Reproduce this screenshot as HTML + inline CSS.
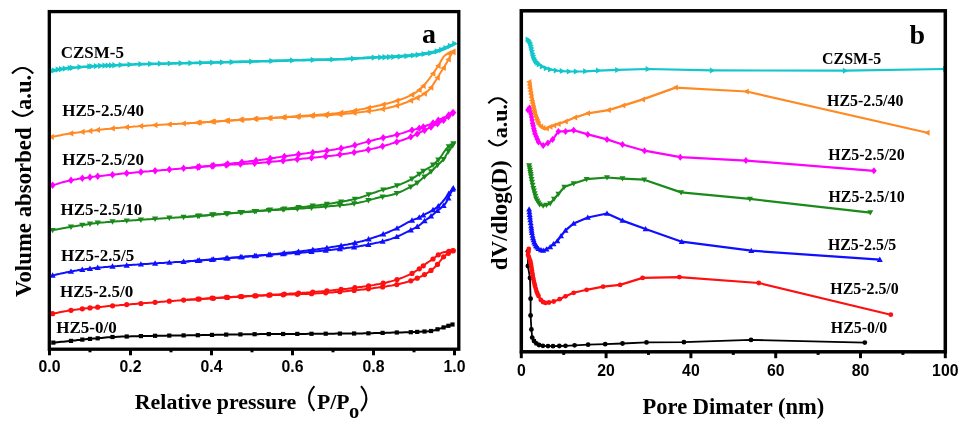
<!DOCTYPE html>
<html><head><meta charset="utf-8"><title>Chart</title>
<style>html,body{margin:0;padding:0;background:#fff;width:965px;height:426px;overflow:hidden}svg{display:block;filter:blur(0.4px)}</style>
</head><body>
<svg width="965" height="426" viewBox="0 0 965 426">
<rect width="965" height="426" fill="#ffffff"/>
<polyline points="51.5,71.0 53.5,70.5 55.6,70.1 57.6,69.7 59.6,69.3 61.6,69.0 63.7,68.7 65.7,68.5 67.7,68.2 69.7,68.0 71.8,67.8 73.8,67.6 75.8,67.5 77.9,67.3 79.9,67.1 81.9,67.0 83.9,66.8 86.0,66.7 88.0,66.5 90.0,66.4 92.1,66.3 94.1,66.2 96.1,66.0 98.1,65.9 100.2,65.8 102.2,65.7 104.2,65.7 106.2,65.6 108.3,65.5 110.3,65.4 112.3,65.3 114.4,65.3 116.4,65.2 118.4,65.1 120.4,65.0 122.5,64.9 124.5,64.9 126.5,64.8 128.6,64.7 130.6,64.6 132.6,64.5 134.6,64.4 136.7,64.3 138.7,64.3 140.7,64.2 142.7,64.1 144.8,64.1 146.8,64.0 148.8,64.0 150.9,63.9 152.9,63.9 154.9,63.8 156.9,63.8 159.0,63.7 161.0,63.7 163.0,63.6 165.0,63.6 167.1,63.5 169.1,63.5 171.1,63.5 173.2,63.4 175.2,63.4 177.2,63.3 179.2,63.3 181.3,63.2 183.3,63.2 185.3,63.2 187.4,63.1 189.4,63.1 191.4,63.0 193.4,63.0 195.5,62.9 197.5,62.9 199.5,62.8 201.5,62.8 203.6,62.7 205.6,62.7 207.6,62.6 209.7,62.6 211.7,62.5 213.7,62.5 215.7,62.5 217.8,62.4 219.8,62.4 221.8,62.3 223.8,62.3 225.9,62.2 227.9,62.2 229.9,62.1 232.0,62.1 234.0,62.0 236.0,62.0 238.0,61.9 240.1,61.9 242.1,61.8 244.1,61.8 246.2,61.7 248.2,61.7 250.2,61.6 252.2,61.5 254.3,61.5 256.3,61.4 258.3,61.4 260.3,61.3 262.4,61.3 264.4,61.2 266.4,61.2 268.5,61.1 270.5,61.0 272.5,61.0 274.5,60.9 276.6,60.9 278.6,60.8 280.6,60.7 282.7,60.7 284.7,60.6 286.7,60.6 288.7,60.5 290.8,60.4 292.8,60.4 294.8,60.3 296.8,60.3 298.9,60.2 300.9,60.2 302.9,60.1 305.0,60.1 307.0,60.0 309.0,60.0 311.0,60.0 313.1,59.9 315.1,59.9 317.1,59.8 319.1,59.8 321.2,59.8 323.2,59.7 325.2,59.7 327.3,59.6 329.3,59.6 331.3,59.5 333.3,59.5 335.4,59.4 337.4,59.4 339.4,59.3 341.5,59.3 343.5,59.2 345.5,59.1 347.5,59.0 349.6,58.9 351.6,58.8 353.6,58.7 355.6,58.6 357.7,58.5 359.7,58.3 361.7,58.2 363.8,58.1 365.8,58.0 367.8,57.9 369.8,57.8 371.9,57.7 373.9,57.6 375.9,57.5 377.9,57.5 380.0,57.4 382.0,57.3 384.0,57.3 386.1,57.2 388.1,57.1 390.1,57.0 392.1,57.0 394.2,56.9 396.2,56.8 398.2,56.7 400.3,56.6 402.3,56.5 404.3,56.3 406.3,56.1 408.4,56.0 410.4,55.8 412.4,55.6 414.4,55.3 416.5,55.1 418.5,54.8 420.5,54.5 422.6,54.2 424.6,53.9 426.6,53.7 428.6,53.4 430.7,53.1 432.7,52.7 434.7,52.2 436.8,51.5 438.8,50.8 440.8,50.1 442.8,49.3 444.9,48.4 446.9,47.5 448.9,46.6 450.9,45.6 453.0,44.5 455.0,43.5" fill="none" stroke="#12c6ca" stroke-width="2.6" stroke-linejoin="round" stroke-linecap="round"/>
<polyline points="187.2,63.1 189.0,63.1 190.8,63.0 192.6,63.0 194.4,62.9 196.2,62.9 198.0,62.8 199.8,62.8 201.6,62.7 203.4,62.7 205.2,62.6 207.0,62.6 208.8,62.5 210.6,62.5 212.4,62.4 214.2,62.4 216.0,62.3 217.8,62.3 219.6,62.2 221.3,62.2 223.1,62.1 224.9,62.1 226.7,62.0 228.5,62.0 230.3,61.9 232.1,61.9 233.9,61.8 235.7,61.8 237.5,61.7 239.3,61.7 241.1,61.6 242.9,61.6 244.7,61.5 246.5,61.5 248.3,61.4 250.1,61.4 251.9,61.3 253.7,61.3 255.5,61.2 257.3,61.2 259.1,61.1 260.9,61.1 262.7,61.0 264.5,61.0 266.3,60.9 268.1,60.9 269.9,60.8 271.7,60.8 273.5,60.7 275.3,60.7 277.1,60.6 278.9,60.6 280.7,60.5 282.5,60.5 284.3,60.4 286.1,60.4 287.8,60.3 289.6,60.3 291.4,60.2 293.2,60.2 295.0,60.1 296.8,60.1 298.6,60.0 300.4,60.0 302.2,59.9 304.0,59.9 305.8,59.9 307.6,59.8 309.4,59.8 311.2,59.7 313.0,59.7 314.8,59.7 316.6,59.6 318.4,59.6 320.2,59.5 322.0,59.5 323.8,59.5 325.6,59.4 327.4,59.4 329.2,59.3 331.0,59.3 332.8,59.2 334.6,59.2 336.4,59.1 338.2,59.1 340.0,59.0 341.8,58.9 343.6,58.9 345.4,58.8 347.2,58.7 349.0,58.6 350.8,58.5 352.6,58.4 354.4,58.3 356.1,58.2 357.9,58.1 359.7,58.0 361.5,57.9 363.3,57.8 365.1,57.7 366.9,57.6 368.7,57.5 370.5,57.4 372.3,57.3 374.1,57.2 375.9,57.1 377.7,57.0 379.5,56.9 381.3,56.8 383.1,56.7 384.9,56.7 386.7,56.6 388.5,56.5 390.3,56.4 392.1,56.3 393.9,56.2 395.7,56.1 397.5,56.0 399.3,55.8 401.1,55.7 402.9,55.6 404.7,55.5 406.5,55.3 408.3,55.2 410.1,55.0 411.9,54.8 413.7,54.6 415.5,54.4 417.3,54.2 419.1,53.9 420.9,53.7 422.6,53.4 424.4,53.1 426.2,52.9 428.0,52.6 429.8,52.3 431.6,51.9 433.4,51.5 435.2,51.0 437.0,50.4 438.8,49.8 440.6,49.1 442.4,48.4 444.2,47.7 446.0,47.0 447.8,46.3 449.6,45.6 451.4,44.9 453.2,44.2 455.0,43.5" fill="none" stroke="#12c6ca" stroke-width="2.0" stroke-linejoin="round" stroke-linecap="round"/>
<path d="M54.6 71.0L49.2 67.9L49.2 74.1Z" fill="#12c6ca"/>
<path d="M57.1 70.4L51.7 67.3L51.7 73.6Z" fill="#12c6ca"/>
<path d="M61.1 69.6L55.7 66.5L55.7 72.7Z" fill="#12c6ca"/>
<path d="M64.4 69.1L59.0 66.0L59.0 72.2Z" fill="#12c6ca"/>
<path d="M68.1 68.6L62.7 65.4L62.7 71.7Z" fill="#12c6ca"/>
<path d="M73.1 68.0L67.7 64.9L67.7 71.1Z" fill="#12c6ca"/>
<path d="M75.3 67.8L69.9 64.7L69.9 70.9Z" fill="#12c6ca"/>
<path d="M82.9 67.1L77.5 64.0L77.5 70.2Z" fill="#12c6ca"/>
<path d="M92.7 66.4L87.3 63.3L87.3 69.5Z" fill="#12c6ca"/>
<path d="M94.8 66.3L89.4 63.2L89.4 69.4Z" fill="#12c6ca"/>
<path d="M99.2 66.0L93.8 62.9L93.8 69.2Z" fill="#12c6ca"/>
<path d="M103.5 65.8L98.1 62.7L98.1 68.9Z" fill="#12c6ca"/>
<path d="M107.9 65.6L102.5 62.5L102.5 68.8Z" fill="#12c6ca"/>
<path d="M111.1 65.5L105.7 62.4L105.7 68.6Z" fill="#12c6ca"/>
<path d="M114.4 65.4L109.0 62.3L109.0 68.5Z" fill="#12c6ca"/>
<path d="M117.7 65.2L112.3 62.1L112.3 68.4Z" fill="#12c6ca"/>
<path d="M124.1 65.0L118.7 61.9L118.7 68.1Z" fill="#12c6ca"/>
<path d="M132.9 64.6L127.5 61.5L127.5 67.7Z" fill="#12c6ca"/>
<path d="M143.8 64.2L138.4 61.1L138.4 67.3Z" fill="#12c6ca"/>
<path d="M153.5 63.9L148.1 60.8L148.1 67.1Z" fill="#12c6ca"/>
<path d="M163.3 63.7L157.9 60.6L157.9 66.8Z" fill="#12c6ca"/>
<path d="M173.1 63.5L167.7 60.4L167.7 66.6Z" fill="#12c6ca"/>
<path d="M184.0 63.3L178.6 60.1L178.6 66.4Z" fill="#12c6ca"/>
<path d="M193.8 63.0L188.4 59.9L188.4 66.2Z" fill="#12c6ca"/>
<path d="M204.6 62.8L199.2 59.7L199.2 65.9Z" fill="#12c6ca"/>
<path d="M215.5 62.5L210.1 59.4L210.1 65.7Z" fill="#12c6ca"/>
<path d="M225.3 62.3L219.9 59.2L219.9 65.4Z" fill="#12c6ca"/>
<path d="M235.1 62.1L229.7 58.9L229.7 65.2Z" fill="#12c6ca"/>
<path d="M254.6 61.6L249.2 58.4L249.2 64.7Z" fill="#12c6ca"/>
<path d="M274.8 61.0L269.4 57.9L269.4 64.1Z" fill="#12c6ca"/>
<path d="M295.5 60.4L290.1 57.3L290.1 63.5Z" fill="#12c6ca"/>
<path d="M316.1 59.9L310.7 56.8L310.7 63.0Z" fill="#12c6ca"/>
<path d="M335.7 59.5L330.3 56.4L330.3 62.6Z" fill="#12c6ca"/>
<path d="M356.4 58.7L351.0 55.6L351.0 61.8Z" fill="#12c6ca"/>
<path d="M377.1 57.6L371.7 54.5L371.7 60.7Z" fill="#12c6ca"/>
<path d="M383.6 57.4L378.2 54.3L378.2 60.5Z" fill="#12c6ca"/>
<path d="M387.9 57.2L382.5 54.1L382.5 60.4Z" fill="#12c6ca"/>
<path d="M392.4 57.1L387.0 54.0L387.0 60.2Z" fill="#12c6ca"/>
<path d="M396.7 56.9L391.3 53.8L391.3 60.0Z" fill="#12c6ca"/>
<path d="M403.1 56.6L397.7 53.5L397.7 59.7Z" fill="#12c6ca"/>
<path d="M409.8 56.1L404.4 53.0L404.4 59.2Z" fill="#12c6ca"/>
<path d="M416.3 55.5L410.9 52.4L410.9 58.6Z" fill="#12c6ca"/>
<path d="M421.1 54.9L415.7 51.7L415.7 58.0Z" fill="#12c6ca"/>
<path d="M427.1 54.0L421.7 50.9L421.7 57.1Z" fill="#12c6ca"/>
<path d="M433.6 53.1L428.2 50.0L428.2 56.2Z" fill="#12c6ca"/>
<path d="M440.1 51.5L434.7 48.3L434.7 54.6Z" fill="#12c6ca"/>
<path d="M444.6 49.8L439.2 46.7L439.2 52.9Z" fill="#12c6ca"/>
<path d="M448.9 48.0L443.5 44.9L443.5 51.1Z" fill="#12c6ca"/>
<path d="M453.3 45.9L447.9 42.8L447.9 49.1Z" fill="#12c6ca"/>
<path d="M457.7 43.7L452.3 40.6L452.3 46.8Z" fill="#12c6ca"/>
<polyline points="51.5,137.0 53.5,136.6 55.5,136.2 57.5,135.8 59.6,135.4 61.6,135.0 63.6,134.6 65.6,134.2 67.6,133.9 69.6,133.6 71.6,133.3 73.7,133.0 75.7,132.7 77.7,132.5 79.7,132.2 81.7,132.0 83.7,131.7 85.7,131.4 87.8,131.2 89.8,130.9 91.8,130.6 93.8,130.4 95.8,130.2 97.8,129.9 99.8,129.7 101.9,129.5 103.9,129.3 105.9,129.1 107.9,128.9 109.9,128.7 111.9,128.5 113.9,128.3 116.0,128.1 118.0,127.9 120.0,127.8 122.0,127.6 124.0,127.4 126.0,127.2 128.0,127.1 130.0,126.9 132.1,126.8 134.1,126.6 136.1,126.4 138.1,126.3 140.1,126.1 142.1,126.0 144.1,125.9 146.2,125.7 148.2,125.6 150.2,125.5 152.2,125.3 154.2,125.2 156.2,125.1 158.2,125.0 160.3,124.8 162.3,124.7 164.3,124.6 166.3,124.5 168.3,124.4 170.3,124.3 172.3,124.1 174.4,124.0 176.4,123.9 178.4,123.8 180.4,123.7 182.4,123.6 184.4,123.5 186.4,123.4 188.5,123.2 190.5,123.1 192.5,123.0 194.5,122.9 196.5,122.7 198.5,122.6 200.5,122.5 202.6,122.4 204.6,122.2 206.6,122.1 208.6,121.9 210.6,121.8 212.6,121.7 214.6,121.5 216.7,121.4 218.7,121.2 220.7,121.1 222.7,120.9 224.7,120.8 226.7,120.7 228.7,120.5 230.8,120.4 232.8,120.2 234.8,120.1 236.8,120.0 238.8,119.8 240.8,119.7 242.8,119.6 244.9,119.4 246.9,119.3 248.9,119.2 250.9,119.1 252.9,118.9 254.9,118.8 256.9,118.7 258.9,118.6 261.0,118.5 263.0,118.4 265.0,118.3 267.0,118.2 269.0,118.1 271.0,118.0 273.0,117.9 275.1,117.8 277.1,117.7 279.1,117.6 281.1,117.5 283.1,117.4 285.1,117.3 287.1,117.2 289.2,117.1 291.2,117.0 293.2,116.9 295.2,116.8 297.2,116.7 299.2,116.6 301.2,116.5 303.3,116.4 305.3,116.3 307.3,116.2 309.3,116.1 311.3,116.0 313.3,115.9 315.3,115.8 317.4,115.7 319.4,115.6 321.4,115.5 323.4,115.4 325.4,115.3 327.4,115.1 329.4,115.0 331.5,114.9 333.5,114.8 335.5,114.6 337.5,114.5 339.5,114.3 341.5,114.1 343.5,114.0 345.6,113.8 347.6,113.6 349.6,113.4 351.6,113.2 353.6,113.0 355.6,112.8 357.6,112.5 359.7,112.3 361.7,112.1 363.7,111.8 365.7,111.6 367.7,111.3 369.7,111.0 371.7,110.7 373.8,110.5 375.8,110.2 377.8,109.8 379.8,109.5 381.8,109.2 383.8,108.8 385.8,108.4 387.8,108.0 389.9,107.5 391.9,107.0 393.9,106.5 395.9,105.9 397.9,105.3 399.9,104.7 401.9,104.0 404.0,103.2 406.0,102.5 408.0,101.7 410.0,100.9 412.0,100.1 414.0,99.2 416.0,98.3 418.1,97.4 420.1,96.3 422.1,95.2 424.1,93.9 426.1,92.5 428.1,90.8 430.1,88.7 432.2,86.0 434.2,82.9 436.2,79.8 438.2,76.5 440.2,73.2 442.2,70.0 444.2,66.8 446.3,63.4 448.3,59.8 450.3,56.0 452.3,52.2" fill="none" stroke="#ff8a24" stroke-width="2.0" stroke-linejoin="round" stroke-linecap="round"/>
<polyline points="187.2,123.3 189.0,123.2 190.8,123.1 192.5,123.0 194.3,122.8 196.1,122.7 197.9,122.6 199.7,122.5 201.4,122.4 203.2,122.3 205.0,122.2 206.8,122.1 208.6,121.9 210.3,121.8 212.1,121.7 213.9,121.6 215.7,121.5 217.4,121.4 219.2,121.3 221.0,121.2 222.8,121.0 224.6,120.9 226.3,120.8 228.1,120.7 229.9,120.6 231.7,120.5 233.5,120.4 235.2,120.3 237.0,120.2 238.8,120.0 240.6,119.9 242.4,119.8 244.1,119.7 245.9,119.6 247.7,119.5 249.5,119.4 251.3,119.3 253.0,119.1 254.8,119.0 256.6,118.9 258.4,118.8 260.1,118.7 261.9,118.6 263.7,118.5 265.5,118.3 267.3,118.2 269.0,118.1 270.8,118.0 272.6,117.9 274.4,117.8 276.2,117.6 277.9,117.5 279.7,117.4 281.5,117.3 283.3,117.2 285.1,117.0 286.8,116.9 288.6,116.8 290.4,116.7 292.2,116.5 294.0,116.4 295.7,116.3 297.5,116.2 299.3,116.1 301.1,115.9 302.8,115.8 304.6,115.7 306.4,115.6 308.2,115.4 310.0,115.3 311.7,115.2 313.5,115.1 315.3,115.0 317.1,114.9 318.9,114.7 320.6,114.6 322.4,114.5 324.2,114.3 326.0,114.2 327.8,114.1 329.5,113.9 331.3,113.8 333.1,113.6 334.9,113.4 336.7,113.2 338.4,113.0 340.2,112.8 342.0,112.6 343.8,112.4 345.5,112.1 347.3,111.8 349.1,111.6 350.9,111.3 352.7,111.0 354.4,110.7 356.2,110.3 358.0,110.0 359.8,109.6 361.6,109.3 363.3,108.9 365.1,108.6 366.9,108.2 368.7,107.8 370.5,107.4 372.2,107.0 374.0,106.6 375.8,106.2 377.6,105.8 379.4,105.4 381.1,105.0 382.9,104.6 384.7,104.2 386.5,103.7 388.2,103.3 390.0,102.8 391.8,102.3 393.6,101.7 395.4,101.2 397.1,100.6 398.9,100.1 400.7,99.5 402.5,98.8 404.3,98.2 406.0,97.5 407.8,96.7 409.6,95.9 411.4,95.1 413.2,94.1 414.9,93.1 416.7,91.9 418.5,90.5 420.3,89.0 422.1,87.3 423.8,85.3 425.6,83.3 427.4,81.1 429.2,78.9 430.9,76.5 432.7,74.0 434.5,71.5 436.3,68.8 438.1,66.1 439.8,63.3 441.6,60.0 443.4,56.9 445.2,55.1 447.0,54.2 448.7,53.5 450.5,52.9 452.3,52.2" fill="none" stroke="#ff8a24" stroke-width="2.0" stroke-linejoin="round" stroke-linecap="round"/>
<path d="M48.4 137.0L53.8 133.9L53.8 140.1Z" fill="#ff8a24"/>
<path d="M67.8 133.4L73.3 130.2L73.3 136.5Z" fill="#ff8a24"/>
<path d="M79.2 131.9L84.6 128.8L84.6 135.0Z" fill="#ff8a24"/>
<path d="M86.9 130.9L92.3 127.8L92.3 134.0Z" fill="#ff8a24"/>
<path d="M94.6 129.9L100.0 126.8L100.0 133.1Z" fill="#ff8a24"/>
<path d="M109.4 128.5L114.8 125.3L114.8 131.6Z" fill="#ff8a24"/>
<path d="M123.6 127.2L129.0 124.1L129.0 130.3Z" fill="#ff8a24"/>
<path d="M137.8 126.1L143.2 123.0L143.2 129.2Z" fill="#ff8a24"/>
<path d="M152.0 125.1L157.5 122.0L157.5 128.3Z" fill="#ff8a24"/>
<path d="M166.2 124.3L171.7 121.2L171.7 127.4Z" fill="#ff8a24"/>
<path d="M180.4 123.5L185.9 120.4L185.9 126.6Z" fill="#ff8a24"/>
<path d="M194.7 122.7L200.1 119.5L200.1 125.8Z" fill="#ff8a24"/>
<path d="M208.9 121.7L214.3 118.6L214.3 124.8Z" fill="#ff8a24"/>
<path d="M223.1 120.7L228.5 117.6L228.5 123.8Z" fill="#ff8a24"/>
<path d="M237.3 119.7L242.8 116.6L242.8 122.8Z" fill="#ff8a24"/>
<path d="M251.5 118.8L257.0 115.7L257.0 122.0Z" fill="#ff8a24"/>
<path d="M265.7 118.1L271.2 115.0L271.2 121.2Z" fill="#ff8a24"/>
<path d="M279.9 117.4L285.4 114.3L285.4 120.6Z" fill="#ff8a24"/>
<path d="M294.2 116.7L299.6 113.6L299.6 119.9Z" fill="#ff8a24"/>
<path d="M308.4 116.0L313.8 112.9L313.8 119.1Z" fill="#ff8a24"/>
<path d="M322.6 115.3L328.0 112.1L328.0 118.4Z" fill="#ff8a24"/>
<path d="M336.8 114.3L342.3 111.2L342.3 117.4Z" fill="#ff8a24"/>
<path d="M351.0 112.9L356.5 109.8L356.5 116.1Z" fill="#ff8a24"/>
<path d="M365.2 111.2L370.7 108.1L370.7 114.3Z" fill="#ff8a24"/>
<path d="M379.5 109.1L384.9 105.9L384.9 112.2Z" fill="#ff8a24"/>
<path d="M393.7 105.7L399.1 102.5L399.1 108.8Z" fill="#ff8a24"/>
<path d="M407.6 100.6L413.1 97.5L413.1 103.7Z" fill="#ff8a24"/>
<path d="M414.1 97.8L419.6 94.6L419.6 100.9Z" fill="#ff8a24"/>
<path d="M421.4 93.6L426.9 90.5L426.9 96.8Z" fill="#ff8a24"/>
<path d="M427.9 87.6L433.3 84.5L433.3 90.8Z" fill="#ff8a24"/>
<path d="M434.4 77.7L439.8 74.6L439.8 80.8Z" fill="#ff8a24"/>
<path d="M440.4 67.9L445.9 64.7L445.9 71.0Z" fill="#ff8a24"/>
<path d="M445.3 59.5L450.8 56.4L450.8 62.6Z" fill="#ff8a24"/>
<path d="M449.4 51.9L454.8 48.8L454.8 55.0Z" fill="#ff8a24"/>
<path d="M450.2 51.7L455.6 48.6L455.6 54.9Z" fill="#ff8a24"/>
<path d="M445.7 53.5L451.2 50.3L451.2 56.6Z" fill="#ff8a24"/>
<path d="M435.2 65.8L440.6 62.7L440.6 68.9Z" fill="#ff8a24"/>
<path d="M429.9 73.6L435.4 70.5L435.4 76.7Z" fill="#ff8a24"/>
<path d="M420.2 85.9L425.7 82.8L425.7 89.0Z" fill="#ff8a24"/>
<path d="M416.1 89.9L421.6 86.8L421.6 93.0Z" fill="#ff8a24"/>
<path d="M408.9 94.8L414.3 91.6L414.3 97.9Z" fill="#ff8a24"/>
<path d="M393.9 100.7L399.3 97.6L399.3 103.8Z" fill="#ff8a24"/>
<path d="M380.1 104.5L385.6 101.4L385.6 107.7Z" fill="#ff8a24"/>
<path d="M365.5 107.8L371.0 104.7L371.0 110.9Z" fill="#ff8a24"/>
<path d="M351.8 110.6L357.2 107.5L357.2 113.7Z" fill="#ff8a24"/>
<path d="M338.0 112.7L343.4 109.6L343.4 115.8Z" fill="#ff8a24"/>
<path d="M323.8 114.1L329.3 111.0L329.3 117.3Z" fill="#ff8a24"/>
<path d="M309.6 115.1L315.1 112.0L315.1 118.3Z" fill="#ff8a24"/>
<path d="M295.5 116.1L300.9 113.0L300.9 119.2Z" fill="#ff8a24"/>
<path d="M281.3 117.1L286.7 114.0L286.7 120.2Z" fill="#ff8a24"/>
<path d="M267.1 118.0L272.6 114.9L272.6 121.1Z" fill="#ff8a24"/>
<path d="M252.9 118.9L258.4 115.8L258.4 122.1Z" fill="#ff8a24"/>
<path d="M238.8 119.8L244.2 116.7L244.2 123.0Z" fill="#ff8a24"/>
<path d="M224.6 120.7L230.0 117.6L230.0 123.9Z" fill="#ff8a24"/>
<path d="M210.4 121.6L215.9 118.5L215.9 124.7Z" fill="#ff8a24"/>
<path d="M196.2 122.5L201.7 119.4L201.7 125.6Z" fill="#ff8a24"/>
<polyline points="52.6,185.2 54.6,184.6 56.6,184.1 58.6,183.5 60.6,182.9 62.6,182.3 64.7,181.7 66.7,181.2 68.7,180.7 70.7,180.3 72.7,179.9 74.7,179.5 76.7,179.2 78.7,178.8 80.7,178.5 82.7,178.2 84.7,177.9 86.7,177.7 88.8,177.4 90.8,177.1 92.8,176.8 94.8,176.6 96.8,176.3 98.8,176.1 100.8,175.9 102.8,175.7 104.8,175.4 106.8,175.2 108.8,175.0 110.8,174.8 112.9,174.6 114.9,174.4 116.9,174.2 118.9,174.0 120.9,173.8 122.9,173.6 124.9,173.4 126.9,173.3 128.9,173.1 130.9,172.9 132.9,172.7 135.0,172.5 137.0,172.3 139.0,172.2 141.0,172.0 143.0,171.8 145.0,171.6 147.0,171.4 149.0,171.3 151.0,171.1 153.0,170.9 155.0,170.7 157.0,170.6 159.1,170.4 161.1,170.2 163.1,170.0 165.1,169.9 167.1,169.7 169.1,169.5 171.1,169.4 173.1,169.2 175.1,169.0 177.1,168.9 179.1,168.7 181.1,168.5 183.2,168.4 185.2,168.2 187.2,168.0 189.2,167.9 191.2,167.7 193.2,167.5 195.2,167.4 197.2,167.2 199.2,167.0 201.2,166.9 203.2,166.7 205.2,166.5 207.3,166.4 209.3,166.2 211.3,166.0 213.3,165.9 215.3,165.7 217.3,165.6 219.3,165.4 221.3,165.3 223.3,165.1 225.3,165.0 227.3,164.9 229.4,164.7 231.4,164.6 233.4,164.5 235.4,164.4 237.4,164.3 239.4,164.2 241.4,164.1 243.4,163.9 245.4,163.8 247.4,163.7 249.4,163.6 251.4,163.5 253.5,163.3 255.5,163.2 257.5,163.0 259.5,162.9 261.5,162.7 263.5,162.5 265.5,162.4 267.5,162.2 269.5,162.0 271.5,161.8 273.5,161.6 275.5,161.4 277.6,161.2 279.6,161.0 281.6,160.8 283.6,160.6 285.6,160.4 287.6,160.2 289.6,160.0 291.6,159.8 293.6,159.6 295.6,159.4 297.6,159.2 299.7,159.0 301.7,158.8 303.7,158.6 305.7,158.4 307.7,158.2 309.7,158.0 311.7,157.8 313.7,157.6 315.7,157.4 317.7,157.2 319.7,157.0 321.7,156.8 323.8,156.6 325.8,156.4 327.8,156.1 329.8,155.9 331.8,155.7 333.8,155.4 335.8,155.2 337.8,154.9 339.8,154.6 341.8,154.3 343.8,154.0 345.8,153.7 347.9,153.4 349.9,153.1 351.9,152.8 353.9,152.4 355.9,152.1 357.9,151.7 359.9,151.3 361.9,151.0 363.9,150.6 365.9,150.1 367.9,149.7 369.9,149.3 372.0,148.9 374.0,148.4 376.0,148.0 378.0,147.5 380.0,147.0 382.0,146.5 384.0,145.9 386.0,145.3 388.0,144.7 390.0,144.1 392.0,143.4 394.1,142.8 396.1,142.1 398.1,141.5 400.1,140.8 402.1,140.2 404.1,139.5 406.1,138.7 408.1,138.0 410.1,137.2 412.1,136.3 414.1,135.4 416.1,134.4 418.2,133.4 420.2,132.4 422.2,131.4 424.2,130.4 426.2,129.4 428.2,128.4 430.2,127.4 432.2,126.3 434.2,125.4 436.2,124.4 438.2,123.4 440.2,122.3 442.3,121.2 444.3,119.8 446.3,118.3 448.3,116.6 450.3,114.8 452.3,113.1" fill="none" stroke="#ff00ff" stroke-width="2.0" stroke-linejoin="round" stroke-linecap="round"/>
<polyline points="187.2,168.0 189.0,167.9 190.8,167.7 192.5,167.5 194.3,167.3 196.1,167.2 197.9,167.0 199.7,166.8 201.4,166.6 203.2,166.5 205.0,166.3 206.8,166.1 208.6,165.9 210.3,165.8 212.1,165.6 213.9,165.4 215.7,165.2 217.4,165.0 219.2,164.9 221.0,164.7 222.8,164.5 224.6,164.3 226.3,164.1 228.1,163.9 229.9,163.7 231.7,163.5 233.5,163.3 235.2,163.1 237.0,162.9 238.8,162.7 240.6,162.4 242.4,162.2 244.1,162.0 245.9,161.8 247.7,161.6 249.5,161.3 251.3,161.1 253.0,160.9 254.8,160.7 256.6,160.4 258.4,160.2 260.1,159.9 261.9,159.7 263.7,159.4 265.5,159.2 267.3,158.9 269.0,158.7 270.8,158.4 272.6,158.1 274.4,157.9 276.2,157.6 277.9,157.3 279.7,157.1 281.5,156.8 283.3,156.5 285.1,156.3 286.8,156.0 288.6,155.8 290.4,155.5 292.2,155.2 294.0,155.0 295.7,154.7 297.5,154.5 299.3,154.2 301.1,154.0 302.8,153.7 304.6,153.5 306.4,153.3 308.2,153.0 310.0,152.8 311.7,152.6 313.5,152.3 315.3,152.1 317.1,151.9 318.9,151.7 320.6,151.4 322.4,151.2 324.2,151.0 326.0,150.7 327.8,150.5 329.5,150.2 331.3,150.0 333.1,149.7 334.9,149.4 336.7,149.1 338.4,148.8 340.2,148.5 342.0,148.2 343.8,147.8 345.5,147.5 347.3,147.1 349.1,146.7 350.9,146.3 352.7,145.8 354.4,145.4 356.2,144.9 358.0,144.4 359.8,143.9 361.6,143.4 363.3,142.9 365.1,142.4 366.9,141.9 368.7,141.4 370.5,141.0 372.2,140.5 374.0,140.0 375.8,139.5 377.6,139.1 379.4,138.7 381.1,138.2 382.9,137.8 384.7,137.4 386.5,137.1 388.2,136.7 390.0,136.3 391.8,135.9 393.6,135.5 395.4,135.1 397.1,134.6 398.9,134.1 400.7,133.6 402.5,133.1 404.3,132.5 406.0,131.9 407.8,131.3 409.6,130.8 411.4,130.3 413.2,129.8 414.9,129.4 416.7,128.9 418.5,128.5 420.3,127.9 422.1,127.3 423.8,126.7 425.6,126.0 427.4,125.3 429.2,124.6 430.9,123.8 432.7,123.0 434.5,122.2 436.3,121.3 438.1,120.4 439.8,119.5 441.6,118.6 443.4,117.7 445.2,116.8 447.0,115.9 448.7,115.0 450.5,114.0 452.3,113.1" fill="none" stroke="#ff00ff" stroke-width="2.0" stroke-linejoin="round" stroke-linecap="round"/>
<path d="M52.6 181.5L55.6 185.2L52.6 188.9L49.6 185.2Z" fill="#ff00ff"/>
<path d="M71.0 176.5L73.9 180.2L71.0 183.9L68.0 180.2Z" fill="#ff00ff"/>
<path d="M82.3 174.6L85.3 178.3L82.3 182.0L79.3 178.3Z" fill="#ff00ff"/>
<path d="M90.0 173.5L93.0 177.2L90.0 180.9L87.0 177.2Z" fill="#ff00ff"/>
<path d="M97.7 172.5L100.7 176.2L97.7 180.0L94.7 176.2Z" fill="#ff00ff"/>
<path d="M112.5 170.9L115.5 174.7L112.5 178.4L109.5 174.7Z" fill="#ff00ff"/>
<path d="M126.7 169.6L129.7 173.3L126.7 177.0L123.7 173.3Z" fill="#ff00ff"/>
<path d="M140.9 168.3L143.9 172.0L140.9 175.7L137.9 172.0Z" fill="#ff00ff"/>
<path d="M155.1 167.0L158.1 170.7L155.1 174.4L152.1 170.7Z" fill="#ff00ff"/>
<path d="M169.3 165.8L172.3 169.5L169.3 173.2L166.4 169.5Z" fill="#ff00ff"/>
<path d="M183.6 164.6L186.5 168.3L183.6 172.1L180.6 168.3Z" fill="#ff00ff"/>
<path d="M197.8 163.4L200.7 167.1L197.8 170.9L194.8 167.1Z" fill="#ff00ff"/>
<path d="M212.0 162.3L215.0 166.0L212.0 169.7L209.0 166.0Z" fill="#ff00ff"/>
<path d="M226.2 161.2L229.2 164.9L226.2 168.7L223.2 164.9Z" fill="#ff00ff"/>
<path d="M240.4 160.4L243.4 164.1L240.4 167.8L237.4 164.1Z" fill="#ff00ff"/>
<path d="M254.6 159.5L257.6 163.2L254.6 167.0L251.7 163.2Z" fill="#ff00ff"/>
<path d="M268.8 158.3L271.8 162.1L268.8 165.8L265.9 162.1Z" fill="#ff00ff"/>
<path d="M283.1 157.0L286.0 160.7L283.1 164.4L280.1 160.7Z" fill="#ff00ff"/>
<path d="M297.3 155.5L300.3 159.3L297.3 163.0L294.3 159.3Z" fill="#ff00ff"/>
<path d="M311.5 154.1L314.5 157.9L311.5 161.6L308.5 157.9Z" fill="#ff00ff"/>
<path d="M325.7 152.6L328.7 156.4L325.7 160.1L322.7 156.4Z" fill="#ff00ff"/>
<path d="M339.9 150.9L342.9 154.6L339.9 158.3L336.9 154.6Z" fill="#ff00ff"/>
<path d="M354.1 148.7L357.1 152.4L354.1 156.1L351.2 152.4Z" fill="#ff00ff"/>
<path d="M368.4 145.9L371.3 149.6L368.4 153.4L365.4 149.6Z" fill="#ff00ff"/>
<path d="M382.6 142.6L385.5 146.3L382.6 150.1L379.6 146.3Z" fill="#ff00ff"/>
<path d="M396.8 138.2L399.8 141.9L396.8 145.6L393.8 141.9Z" fill="#ff00ff"/>
<path d="M410.8 133.2L413.7 136.9L410.8 140.6L407.8 136.9Z" fill="#ff00ff"/>
<path d="M417.2 130.2L420.2 133.9L417.2 137.6L414.3 133.9Z" fill="#ff00ff"/>
<path d="M424.5 126.5L427.5 130.2L424.5 134.0L421.6 130.2Z" fill="#ff00ff"/>
<path d="M431.0 123.2L434.0 126.9L431.0 130.7L428.0 126.9Z" fill="#ff00ff"/>
<path d="M437.5 120.1L440.5 123.8L437.5 127.5L434.5 123.8Z" fill="#ff00ff"/>
<path d="M443.6 116.6L446.5 120.3L443.6 124.0L440.6 120.3Z" fill="#ff00ff"/>
<path d="M448.4 112.7L451.4 116.4L448.4 120.2L445.4 116.4Z" fill="#ff00ff"/>
<path d="M452.5 109.2L455.5 113.0L452.5 116.7L449.5 113.0Z" fill="#ff00ff"/>
<path d="M453.3 108.9L456.3 112.6L453.3 116.3L450.3 112.6Z" fill="#ff00ff"/>
<path d="M448.8 111.2L451.8 114.9L448.8 118.6L445.9 114.9Z" fill="#ff00ff"/>
<path d="M438.3 116.6L441.3 120.3L438.3 124.0L435.3 120.3Z" fill="#ff00ff"/>
<path d="M433.0 119.2L436.0 122.9L433.0 126.6L430.1 122.9Z" fill="#ff00ff"/>
<path d="M423.3 123.2L426.3 126.9L423.3 130.6L420.3 126.9Z" fill="#ff00ff"/>
<path d="M419.3 124.5L422.2 128.2L419.3 132.0L416.3 128.2Z" fill="#ff00ff"/>
<path d="M412.0 126.4L415.0 130.1L412.0 133.9L409.0 130.1Z" fill="#ff00ff"/>
<path d="M397.0 131.0L400.0 134.7L397.0 138.4L394.0 134.7Z" fill="#ff00ff"/>
<path d="M383.2 134.0L386.2 137.8L383.2 141.5L380.2 137.8Z" fill="#ff00ff"/>
<path d="M368.6 137.7L371.6 141.5L368.6 145.2L365.7 141.5Z" fill="#ff00ff"/>
<path d="M354.9 141.5L357.8 145.2L354.9 149.0L351.9 145.2Z" fill="#ff00ff"/>
<path d="M341.1 144.6L344.1 148.4L341.1 152.1L338.1 148.4Z" fill="#ff00ff"/>
<path d="M326.9 146.9L329.9 150.6L326.9 154.3L323.9 150.6Z" fill="#ff00ff"/>
<path d="M312.8 148.7L315.7 152.4L312.8 156.2L309.8 152.4Z" fill="#ff00ff"/>
<path d="M298.6 150.6L301.6 154.3L298.6 158.0L295.6 154.3Z" fill="#ff00ff"/>
<path d="M284.4 152.7L287.4 156.4L284.4 160.1L281.4 156.4Z" fill="#ff00ff"/>
<path d="M270.2 154.8L273.2 158.5L270.2 162.2L267.2 158.5Z" fill="#ff00ff"/>
<path d="M256.1 156.8L259.0 160.5L256.1 164.2L253.1 160.5Z" fill="#ff00ff"/>
<path d="M241.9 158.6L244.9 162.3L241.9 166.0L238.9 162.3Z" fill="#ff00ff"/>
<path d="M227.7 160.2L230.7 163.9L227.7 167.7L224.7 163.9Z" fill="#ff00ff"/>
<path d="M213.5 161.7L216.5 165.4L213.5 169.2L210.5 165.4Z" fill="#ff00ff"/>
<path d="M199.3 163.1L202.3 166.8L199.3 170.6L196.4 166.8Z" fill="#ff00ff"/>
<polyline points="52.6,230.2 54.6,229.8 56.6,229.4 58.7,229.1 60.7,228.7 62.7,228.3 64.7,227.9 66.7,227.6 68.8,227.2 70.8,226.9 72.8,226.5 74.8,226.2 76.8,225.9 78.9,225.6 80.9,225.3 82.9,225.0 84.9,224.7 86.9,224.4 89.0,224.1 91.0,223.8 93.0,223.5 95.0,223.2 97.0,223.0 99.1,222.8 101.1,222.6 103.1,222.4 105.1,222.3 107.1,222.1 109.2,221.9 111.2,221.8 113.2,221.6 115.2,221.5 117.2,221.3 119.3,221.2 121.3,221.1 123.3,220.9 125.3,220.8 127.3,220.7 129.4,220.5 131.4,220.4 133.4,220.3 135.4,220.2 137.4,220.0 139.5,219.9 141.5,219.7 143.5,219.6 145.5,219.5 147.5,219.3 149.6,219.2 151.6,219.1 153.6,218.9 155.6,218.8 157.6,218.7 159.7,218.6 161.7,218.4 163.7,218.3 165.7,218.2 167.7,218.1 169.8,217.9 171.8,217.8 173.8,217.7 175.8,217.5 177.8,217.4 179.9,217.3 181.9,217.2 183.9,217.0 185.9,216.9 187.9,216.8 190.0,216.6 192.0,216.5 194.0,216.3 196.0,216.2 198.0,216.0 200.1,215.9 202.1,215.7 204.1,215.6 206.1,215.4 208.1,215.2 210.2,215.1 212.2,214.9 214.2,214.7 216.2,214.5 218.2,214.3 220.3,214.2 222.3,214.0 224.3,213.8 226.3,213.6 228.3,213.4 230.4,213.2 232.4,213.1 234.4,212.9 236.4,212.7 238.4,212.5 240.5,212.3 242.5,212.2 244.5,212.0 246.5,211.8 248.5,211.7 250.6,211.5 252.6,211.4 254.6,211.2 256.6,211.1 258.7,211.0 260.7,210.8 262.7,210.7 264.7,210.6 266.7,210.5 268.8,210.3 270.8,210.2 272.8,210.1 274.8,210.0 276.8,209.9 278.9,209.8 280.9,209.7 282.9,209.6 284.9,209.4 286.9,209.3 289.0,209.2 291.0,209.1 293.0,209.0 295.0,208.9 297.0,208.7 299.1,208.6 301.1,208.5 303.1,208.4 305.1,208.2 307.1,208.1 309.2,207.9 311.2,207.8 313.2,207.6 315.2,207.5 317.2,207.3 319.3,207.2 321.3,207.0 323.3,206.8 325.3,206.7 327.3,206.5 329.4,206.3 331.4,206.1 333.4,206.0 335.4,205.8 337.4,205.6 339.5,205.4 341.5,205.1 343.5,204.9 345.5,204.7 347.5,204.4 349.6,204.2 351.6,203.9 353.6,203.6 355.6,203.3 357.6,202.9 359.7,202.5 361.7,202.1 363.7,201.6 365.7,201.1 367.7,200.5 369.8,200.0 371.8,199.4 373.8,198.9 375.8,198.3 377.8,197.8 379.9,197.3 381.9,196.9 383.9,196.5 385.9,196.1 387.9,195.7 390.0,195.3 392.0,194.8 394.0,194.2 396.0,193.6 398.0,192.8 400.1,192.0 402.1,191.1 404.1,190.2 406.1,189.2 408.1,188.2 410.2,187.1 412.2,186.1 414.2,184.9 416.2,183.6 418.2,182.1 420.3,180.2 422.3,178.4 424.3,176.9 426.3,175.4 428.3,173.9 430.4,172.2 432.4,170.3 434.4,168.2 436.4,166.2 438.4,164.3 440.5,162.5 442.5,160.5 444.5,158.0 446.5,154.6 448.5,151.2 450.6,148.3 452.6,145.6 454.6,142.8" fill="none" stroke="#1a8a1a" stroke-width="2.0" stroke-linejoin="round" stroke-linecap="round"/>
<polyline points="187.2,216.8 189.0,216.7 190.8,216.5 192.6,216.4 194.4,216.2 196.2,216.1 198.0,215.9 199.8,215.8 201.6,215.6 203.4,215.5 205.1,215.4 206.9,215.2 208.7,215.1 210.5,214.9 212.3,214.8 214.1,214.6 215.9,214.5 217.7,214.3 219.5,214.2 221.3,214.1 223.1,213.9 224.9,213.8 226.7,213.6 228.5,213.5 230.3,213.3 232.1,213.2 233.9,213.0 235.7,212.9 237.4,212.8 239.2,212.6 241.0,212.5 242.8,212.3 244.6,212.2 246.4,212.0 248.2,211.9 250.0,211.7 251.8,211.6 253.6,211.4 255.4,211.3 257.2,211.1 259.0,211.0 260.8,210.8 262.6,210.7 264.4,210.5 266.2,210.3 268.0,210.2 269.8,210.0 271.5,209.9 273.3,209.7 275.1,209.5 276.9,209.4 278.7,209.2 280.5,209.1 282.3,208.9 284.1,208.8 285.9,208.6 287.7,208.5 289.5,208.3 291.3,208.1 293.1,208.0 294.9,207.8 296.7,207.6 298.5,207.5 300.3,207.3 302.1,207.1 303.9,206.9 305.6,206.7 307.4,206.5 309.2,206.3 311.0,206.1 312.8,205.9 314.6,205.7 316.4,205.4 318.2,205.2 320.0,205.0 321.8,204.7 323.6,204.5 325.4,204.2 327.2,204.0 329.0,203.7 330.8,203.5 332.6,203.2 334.4,202.9 336.2,202.6 337.9,202.3 339.7,202.0 341.5,201.7 343.3,201.4 345.1,201.0 346.9,200.7 348.7,200.3 350.5,199.9 352.3,199.6 354.1,199.2 355.9,198.7 357.7,198.3 359.5,197.8 361.3,197.2 363.1,196.6 364.9,196.0 366.7,195.4 368.5,194.7 370.3,194.1 372.0,193.4 373.8,192.8 375.6,192.2 377.4,191.5 379.2,190.9 381.0,190.4 382.8,189.8 384.6,189.3 386.4,188.8 388.2,188.3 390.0,187.8 391.8,187.2 393.6,186.7 395.4,186.1 397.2,185.5 399.0,184.9 400.8,184.2 402.6,183.4 404.4,182.6 406.1,181.8 407.9,181.0 409.7,180.1 411.5,179.1 413.3,178.0 415.1,176.9 416.9,175.7 418.7,174.5 420.5,173.2 422.3,171.9 424.1,170.6 425.9,169.5 427.7,168.4 429.5,167.5 431.3,166.3 433.1,164.9 434.9,163.3 436.7,161.5 438.4,159.6 440.2,157.5 442.0,155.0 443.8,152.3 445.6,149.7 447.4,147.7 449.2,146.2 451.0,145.0 452.8,143.9 454.6,142.8" fill="none" stroke="#1a8a1a" stroke-width="2.0" stroke-linejoin="round" stroke-linecap="round"/>
<path d="M52.6 233.3L55.7 227.9L49.5 227.9Z" fill="#1a8a1a"/>
<path d="M71.0 230.0L74.1 224.5L67.8 224.5Z" fill="#1a8a1a"/>
<path d="M82.3 228.2L85.4 222.8L79.2 222.8Z" fill="#1a8a1a"/>
<path d="M90.0 227.1L93.1 221.6L86.9 221.6Z" fill="#1a8a1a"/>
<path d="M97.7 226.1L100.8 220.6L94.6 220.6Z" fill="#1a8a1a"/>
<path d="M112.5 224.8L115.6 219.3L109.4 219.3Z" fill="#1a8a1a"/>
<path d="M126.7 223.8L129.8 218.4L123.6 218.4Z" fill="#1a8a1a"/>
<path d="M140.9 222.9L144.0 217.4L137.8 217.4Z" fill="#1a8a1a"/>
<path d="M155.1 222.0L158.2 216.5L152.0 216.5Z" fill="#1a8a1a"/>
<path d="M169.3 221.1L172.5 215.6L166.2 215.6Z" fill="#1a8a1a"/>
<path d="M183.6 220.2L186.7 214.7L180.4 214.7Z" fill="#1a8a1a"/>
<path d="M197.8 219.2L200.9 213.7L194.7 213.7Z" fill="#1a8a1a"/>
<path d="M212.0 218.0L215.1 212.6L208.9 212.6Z" fill="#1a8a1a"/>
<path d="M226.2 216.7L229.3 211.3L223.1 211.3Z" fill="#1a8a1a"/>
<path d="M240.4 215.5L243.5 210.0L237.3 210.0Z" fill="#1a8a1a"/>
<path d="M254.6 214.4L257.8 208.9L251.5 208.9Z" fill="#1a8a1a"/>
<path d="M268.8 213.5L272.0 208.0L265.7 208.0Z" fill="#1a8a1a"/>
<path d="M283.1 212.7L286.2 207.2L279.9 207.2Z" fill="#1a8a1a"/>
<path d="M297.3 211.9L300.4 206.4L294.2 206.4Z" fill="#1a8a1a"/>
<path d="M311.5 210.9L314.6 205.4L308.4 205.4Z" fill="#1a8a1a"/>
<path d="M325.7 209.8L328.8 204.3L322.6 204.3Z" fill="#1a8a1a"/>
<path d="M339.9 208.4L343.0 203.0L336.8 203.0Z" fill="#1a8a1a"/>
<path d="M354.1 206.7L357.3 201.2L351.0 201.2Z" fill="#1a8a1a"/>
<path d="M368.4 203.5L371.5 198.0L365.2 198.0Z" fill="#1a8a1a"/>
<path d="M382.6 199.9L385.7 194.4L379.5 194.4Z" fill="#1a8a1a"/>
<path d="M396.8 196.4L399.9 191.0L393.7 191.0Z" fill="#1a8a1a"/>
<path d="M410.8 189.9L413.9 184.5L407.6 184.5Z" fill="#1a8a1a"/>
<path d="M417.2 186.0L420.4 180.5L414.1 180.5Z" fill="#1a8a1a"/>
<path d="M424.5 179.8L427.7 174.4L421.4 174.4Z" fill="#1a8a1a"/>
<path d="M431.0 174.7L434.1 169.3L427.9 169.3Z" fill="#1a8a1a"/>
<path d="M437.5 168.3L440.6 162.8L434.4 162.8Z" fill="#1a8a1a"/>
<path d="M443.6 162.3L446.7 156.9L440.4 156.9Z" fill="#1a8a1a"/>
<path d="M448.4 154.5L451.5 149.1L445.3 149.1Z" fill="#1a8a1a"/>
<path d="M452.5 148.8L455.6 143.4L449.4 143.4Z" fill="#1a8a1a"/>
<path d="M453.3 146.8L456.4 141.3L450.2 141.3Z" fill="#1a8a1a"/>
<path d="M448.8 149.6L451.9 144.2L445.7 144.2Z" fill="#1a8a1a"/>
<path d="M438.3 162.9L441.4 157.4L435.2 157.4Z" fill="#1a8a1a"/>
<path d="M433.0 168.1L436.2 162.6L429.9 162.6Z" fill="#1a8a1a"/>
<path d="M423.3 174.3L426.4 168.8L420.2 168.8Z" fill="#1a8a1a"/>
<path d="M419.3 177.2L422.4 171.7L416.1 171.7Z" fill="#1a8a1a"/>
<path d="M412.0 182.0L415.1 176.5L408.9 176.5Z" fill="#1a8a1a"/>
<path d="M397.0 188.7L400.1 183.2L393.9 183.2Z" fill="#1a8a1a"/>
<path d="M383.2 192.8L386.3 187.4L380.1 187.4Z" fill="#1a8a1a"/>
<path d="M368.6 197.8L371.8 192.3L365.5 192.3Z" fill="#1a8a1a"/>
<path d="M354.9 202.1L358.0 196.7L351.8 196.7Z" fill="#1a8a1a"/>
<path d="M341.1 204.9L344.2 199.4L338.0 199.4Z" fill="#1a8a1a"/>
<path d="M326.9 207.1L330.0 201.7L323.8 201.7Z" fill="#1a8a1a"/>
<path d="M312.8 209.0L315.9 203.5L309.6 203.5Z" fill="#1a8a1a"/>
<path d="M298.6 210.6L301.7 205.1L295.5 205.1Z" fill="#1a8a1a"/>
<path d="M284.4 211.9L287.5 206.4L281.3 206.4Z" fill="#1a8a1a"/>
<path d="M270.2 213.1L273.3 207.6L267.1 207.6Z" fill="#1a8a1a"/>
<path d="M256.1 214.3L259.2 208.9L252.9 208.9Z" fill="#1a8a1a"/>
<path d="M241.9 215.5L245.0 210.1L238.8 210.1Z" fill="#1a8a1a"/>
<path d="M227.7 216.7L230.8 211.2L224.6 211.2Z" fill="#1a8a1a"/>
<path d="M213.5 217.8L216.6 212.3L210.4 212.3Z" fill="#1a8a1a"/>
<path d="M199.3 218.9L202.5 213.5L196.2 213.5Z" fill="#1a8a1a"/>
<polyline points="52.6,275.4 54.6,275.0 56.6,274.5 58.6,274.1 60.6,273.6 62.7,273.2 64.7,272.8 66.7,272.3 68.7,271.9 70.7,271.6 72.7,271.2 74.7,270.8 76.7,270.5 78.8,270.1 80.8,269.8 82.8,269.5 84.8,269.3 86.8,269.0 88.8,268.7 90.8,268.5 92.8,268.3 94.8,268.0 96.9,267.8 98.9,267.6 100.9,267.4 102.9,267.3 104.9,267.1 106.9,266.9 108.9,266.7 110.9,266.5 112.9,266.4 115.0,266.2 117.0,266.1 119.0,265.9 121.0,265.7 123.0,265.6 125.0,265.4 127.0,265.3 129.0,265.1 131.1,265.0 133.1,264.8 135.1,264.7 137.1,264.6 139.1,264.4 141.1,264.3 143.1,264.1 145.1,264.0 147.1,263.9 149.2,263.7 151.2,263.6 153.2,263.5 155.2,263.3 157.2,263.2 159.2,263.1 161.2,263.0 163.2,262.9 165.2,262.7 167.3,262.6 169.3,262.5 171.3,262.4 173.3,262.3 175.3,262.1 177.3,262.0 179.3,261.9 181.3,261.8 183.4,261.6 185.4,261.5 187.4,261.4 189.4,261.2 191.4,261.1 193.4,261.0 195.4,260.8 197.4,260.7 199.4,260.5 201.5,260.4 203.5,260.2 205.5,260.1 207.5,259.9 209.5,259.7 211.5,259.6 213.5,259.4 215.5,259.2 217.5,259.0 219.6,258.9 221.6,258.7 223.6,258.5 225.6,258.3 227.6,258.1 229.6,258.0 231.6,257.8 233.6,257.6 235.7,257.4 237.7,257.2 239.7,257.1 241.7,256.9 243.7,256.7 245.7,256.5 247.7,256.4 249.7,256.2 251.7,256.1 253.8,255.9 255.8,255.7 257.8,255.6 259.8,255.4 261.8,255.3 263.8,255.2 265.8,255.0 267.8,254.9 269.8,254.7 271.9,254.6 273.9,254.5 275.9,254.3 277.9,254.2 279.9,254.1 281.9,254.0 283.9,253.8 285.9,253.7 288.0,253.5 290.0,253.4 292.0,253.3 294.0,253.1 296.0,253.0 298.0,252.8 300.0,252.7 302.0,252.5 304.0,252.4 306.1,252.2 308.1,252.1 310.1,251.9 312.1,251.7 314.1,251.5 316.1,251.3 318.1,251.2 320.1,251.0 322.1,250.8 324.2,250.6 326.2,250.4 328.2,250.2 330.2,250.0 332.2,249.8 334.2,249.5 336.2,249.3 338.2,249.1 340.3,248.9 342.3,248.6 344.3,248.4 346.3,248.1 348.3,247.8 350.3,247.6 352.3,247.3 354.3,247.0 356.3,246.7 358.4,246.4 360.4,246.1 362.4,245.7 364.4,245.3 366.4,245.0 368.4,244.6 370.4,244.1 372.4,243.7 374.4,243.3 376.5,242.8 378.5,242.4 380.5,241.9 382.5,241.4 384.5,240.9 386.5,240.3 388.5,239.7 390.5,239.1 392.6,238.4 394.6,237.7 396.6,236.9 398.6,236.0 400.6,235.1 402.6,234.2 404.6,233.2 406.6,232.2 408.6,231.2 410.7,230.2 412.7,229.2 414.7,228.2 416.7,227.1 418.7,225.8 420.7,224.2 422.7,222.4 424.7,220.7 426.7,219.3 428.8,217.9 430.8,216.4 432.8,214.7 434.8,212.9 436.8,211.2 438.8,209.6 440.8,208.1 442.8,206.4 444.9,204.3 446.9,201.1 448.9,197.1 450.9,192.9 452.9,188.5" fill="none" stroke="#1010ff" stroke-width="2.0" stroke-linejoin="round" stroke-linecap="round"/>
<polyline points="187.2,261.4 189.0,261.2 190.8,261.1 192.5,260.9 194.3,260.8 196.1,260.7 197.9,260.5 199.7,260.4 201.5,260.2 203.2,260.1 205.0,259.9 206.8,259.8 208.6,259.7 210.4,259.5 212.2,259.4 213.9,259.2 215.7,259.1 217.5,259.0 219.3,258.8 221.1,258.7 222.9,258.5 224.6,258.4 226.4,258.3 228.2,258.1 230.0,258.0 231.8,257.8 233.6,257.7 235.3,257.5 237.1,257.4 238.9,257.2 240.7,257.1 242.5,256.9 244.3,256.8 246.0,256.6 247.8,256.5 249.6,256.3 251.4,256.2 253.2,256.0 255.0,255.9 256.7,255.7 258.5,255.6 260.3,255.4 262.1,255.2 263.9,255.1 265.7,254.9 267.4,254.7 269.2,254.6 271.0,254.4 272.8,254.2 274.6,254.1 276.4,253.9 278.1,253.7 279.9,253.5 281.7,253.3 283.5,253.2 285.3,253.0 287.1,252.8 288.8,252.6 290.6,252.4 292.4,252.2 294.2,252.0 296.0,251.8 297.8,251.6 299.5,251.4 301.3,251.2 303.1,251.0 304.9,250.8 306.7,250.6 308.5,250.3 310.2,250.1 312.0,249.9 313.8,249.6 315.6,249.4 317.4,249.2 319.2,248.9 320.9,248.7 322.7,248.4 324.5,248.2 326.3,247.9 328.1,247.7 329.9,247.4 331.6,247.1 333.4,246.8 335.2,246.6 337.0,246.3 338.8,246.0 340.6,245.7 342.3,245.4 344.1,245.0 345.9,244.7 347.7,244.4 349.5,244.0 351.3,243.7 353.0,243.3 354.8,242.9 356.6,242.5 358.4,242.1 360.2,241.6 362.0,241.2 363.7,240.7 365.5,240.1 367.3,239.6 369.1,239.1 370.9,238.5 372.7,237.9 374.4,237.3 376.2,236.7 378.0,236.1 379.8,235.5 381.6,234.8 383.4,234.2 385.1,233.5 386.9,232.7 388.7,232.0 390.5,231.2 392.3,230.4 394.1,229.6 395.8,228.8 397.6,228.0 399.4,227.1 401.2,226.2 403.0,225.2 404.8,224.2 406.5,223.2 408.3,222.2 410.1,221.3 411.9,220.4 413.7,219.6 415.5,219.0 417.2,218.3 419.0,217.5 420.8,216.6 422.6,215.6 424.4,214.7 426.2,213.7 427.9,212.8 429.7,211.8 431.5,210.8 433.3,209.8 435.1,208.6 436.9,207.4 438.6,206.0 440.4,204.2 442.2,202.2 444.0,200.0 445.8,197.6 447.6,195.3 449.3,193.1 451.1,190.8 452.9,188.5" fill="none" stroke="#1010ff" stroke-width="2.0" stroke-linejoin="round" stroke-linecap="round"/>
<path d="M52.6 272.3L55.7 277.7L49.5 277.7Z" fill="#1010ff"/>
<path d="M71.0 268.4L74.1 273.8L67.8 273.8Z" fill="#1010ff"/>
<path d="M82.3 266.5L85.4 271.9L79.2 271.9Z" fill="#1010ff"/>
<path d="M90.0 265.5L93.1 270.9L86.9 270.9Z" fill="#1010ff"/>
<path d="M97.7 264.6L100.8 270.1L94.6 270.1Z" fill="#1010ff"/>
<path d="M112.5 263.3L115.6 268.8L109.4 268.8Z" fill="#1010ff"/>
<path d="M126.7 262.2L129.8 267.7L123.6 267.7Z" fill="#1010ff"/>
<path d="M140.9 261.2L144.0 266.6L137.8 266.6Z" fill="#1010ff"/>
<path d="M155.1 260.2L158.2 265.7L152.0 265.7Z" fill="#1010ff"/>
<path d="M169.3 259.4L172.5 264.8L166.2 264.8Z" fill="#1010ff"/>
<path d="M183.6 258.5L186.7 264.0L180.4 264.0Z" fill="#1010ff"/>
<path d="M197.8 257.5L200.9 263.0L194.7 263.0Z" fill="#1010ff"/>
<path d="M212.0 256.4L215.1 261.9L208.9 261.9Z" fill="#1010ff"/>
<path d="M226.2 255.1L229.3 260.6L223.1 260.6Z" fill="#1010ff"/>
<path d="M240.4 253.9L243.5 259.3L237.3 259.3Z" fill="#1010ff"/>
<path d="M254.6 252.7L257.8 258.2L251.5 258.2Z" fill="#1010ff"/>
<path d="M268.8 251.7L272.0 257.2L265.7 257.2Z" fill="#1010ff"/>
<path d="M283.1 250.8L286.2 256.2L279.9 256.2Z" fill="#1010ff"/>
<path d="M297.3 249.8L300.4 255.2L294.2 255.2Z" fill="#1010ff"/>
<path d="M311.5 248.6L314.6 254.1L308.4 254.1Z" fill="#1010ff"/>
<path d="M325.7 247.3L328.8 252.8L322.6 252.8Z" fill="#1010ff"/>
<path d="M339.9 245.8L343.0 251.2L336.8 251.2Z" fill="#1010ff"/>
<path d="M354.1 243.9L357.3 249.4L351.0 249.4Z" fill="#1010ff"/>
<path d="M368.4 241.4L371.5 246.9L365.2 246.9Z" fill="#1010ff"/>
<path d="M382.6 238.2L385.7 243.7L379.5 243.7Z" fill="#1010ff"/>
<path d="M396.8 233.7L399.9 239.1L393.7 239.1Z" fill="#1010ff"/>
<path d="M410.8 227.0L413.9 232.5L407.6 232.5Z" fill="#1010ff"/>
<path d="M417.2 223.6L420.4 229.1L414.1 229.1Z" fill="#1010ff"/>
<path d="M424.5 217.8L427.7 223.2L421.4 223.2Z" fill="#1010ff"/>
<path d="M431.0 213.1L434.1 218.5L427.9 218.5Z" fill="#1010ff"/>
<path d="M437.5 207.5L440.6 212.9L434.4 212.9Z" fill="#1010ff"/>
<path d="M443.6 202.6L446.7 208.1L440.4 208.1Z" fill="#1010ff"/>
<path d="M448.4 194.9L451.5 200.4L445.3 200.4Z" fill="#1010ff"/>
<path d="M452.5 186.3L455.6 191.8L449.4 191.8Z" fill="#1010ff"/>
<path d="M453.3 184.9L456.4 190.4L450.2 190.4Z" fill="#1010ff"/>
<path d="M448.8 190.6L451.9 196.0L445.7 196.0Z" fill="#1010ff"/>
<path d="M438.3 203.1L441.4 208.6L435.2 208.6Z" fill="#1010ff"/>
<path d="M433.0 206.8L436.2 212.3L429.9 212.3Z" fill="#1010ff"/>
<path d="M423.3 212.1L426.4 217.6L420.2 217.6Z" fill="#1010ff"/>
<path d="M419.3 214.3L422.4 219.7L416.1 219.7Z" fill="#1010ff"/>
<path d="M412.0 217.2L415.1 222.7L408.9 222.7Z" fill="#1010ff"/>
<path d="M397.0 225.2L400.1 230.6L393.9 230.6Z" fill="#1010ff"/>
<path d="M383.2 231.1L386.3 236.6L380.1 236.6Z" fill="#1010ff"/>
<path d="M368.6 236.1L371.8 241.5L365.5 241.5Z" fill="#1010ff"/>
<path d="M354.9 239.8L358.0 245.2L351.8 245.2Z" fill="#1010ff"/>
<path d="M341.1 242.5L344.2 247.9L338.0 247.9Z" fill="#1010ff"/>
<path d="M326.9 244.7L330.0 250.2L323.8 250.2Z" fill="#1010ff"/>
<path d="M312.8 246.7L315.9 252.1L309.6 252.1Z" fill="#1010ff"/>
<path d="M298.6 248.4L301.7 253.9L295.5 253.9Z" fill="#1010ff"/>
<path d="M284.4 249.9L287.5 255.4L281.3 255.4Z" fill="#1010ff"/>
<path d="M270.2 251.4L273.3 256.8L267.1 256.8Z" fill="#1010ff"/>
<path d="M256.1 252.7L259.2 258.1L252.9 258.1Z" fill="#1010ff"/>
<path d="M241.9 253.9L245.0 259.3L238.8 259.3Z" fill="#1010ff"/>
<path d="M227.7 255.0L230.8 260.5L224.6 260.5Z" fill="#1010ff"/>
<path d="M213.5 256.2L216.6 261.6L210.4 261.6Z" fill="#1010ff"/>
<path d="M199.3 257.3L202.5 262.7L196.2 262.7Z" fill="#1010ff"/>
<polyline points="52.6,313.7 54.6,313.3 56.6,312.9 58.6,312.5 60.6,312.1 62.6,311.7 64.7,311.3 66.7,311.0 68.7,310.6 70.7,310.3 72.7,310.0 74.7,309.7 76.7,309.5 78.7,309.2 80.7,309.0 82.7,308.7 84.7,308.5 86.7,308.3 88.8,308.1 90.8,307.8 92.8,307.6 94.8,307.4 96.8,307.2 98.8,307.0 100.8,306.9 102.8,306.7 104.8,306.5 106.8,306.3 108.8,306.1 110.8,306.0 112.9,305.8 114.9,305.6 116.9,305.4 118.9,305.3 120.9,305.1 122.9,304.9 124.9,304.8 126.9,304.6 128.9,304.5 130.9,304.3 132.9,304.1 135.0,304.0 137.0,303.8 139.0,303.6 141.0,303.5 143.0,303.3 145.0,303.1 147.0,303.0 149.0,302.8 151.0,302.7 153.0,302.5 155.0,302.3 157.0,302.2 159.1,302.0 161.1,301.8 163.1,301.7 165.1,301.5 167.1,301.3 169.1,301.2 171.1,301.0 173.1,300.9 175.1,300.7 177.1,300.6 179.1,300.4 181.1,300.2 183.2,300.1 185.2,299.9 187.2,299.8 189.2,299.7 191.2,299.5 193.2,299.4 195.2,299.2 197.2,299.1 199.2,299.0 201.2,298.8 203.2,298.7 205.2,298.6 207.3,298.4 209.3,298.3 211.3,298.2 213.3,298.0 215.3,297.9 217.3,297.8 219.3,297.7 221.3,297.5 223.3,297.4 225.3,297.3 227.3,297.2 229.4,297.1 231.4,297.0 233.4,296.8 235.4,296.7 237.4,296.6 239.4,296.5 241.4,296.4 243.4,296.3 245.4,296.2 247.4,296.1 249.4,296.0 251.4,295.9 253.5,295.8 255.5,295.7 257.5,295.6 259.5,295.6 261.5,295.5 263.5,295.4 265.5,295.3 267.5,295.3 269.5,295.2 271.5,295.1 273.5,295.1 275.5,295.0 277.6,294.9 279.6,294.9 281.6,294.8 283.6,294.7 285.6,294.7 287.6,294.6 289.6,294.6 291.6,294.5 293.6,294.4 295.6,294.3 297.6,294.3 299.7,294.2 301.7,294.1 303.7,294.0 305.7,294.0 307.7,293.9 309.7,293.8 311.7,293.7 313.7,293.6 315.7,293.4 317.7,293.3 319.7,293.2 321.7,293.1 323.8,292.9 325.8,292.8 327.8,292.7 329.8,292.5 331.8,292.4 333.8,292.2 335.8,292.0 337.8,291.9 339.8,291.7 341.8,291.5 343.8,291.4 345.8,291.2 347.9,291.0 349.9,290.8 351.9,290.6 353.9,290.4 355.9,290.3 357.9,290.1 359.9,289.8 361.9,289.6 363.9,289.4 365.9,289.1 367.9,288.9 369.9,288.6 372.0,288.4 374.0,288.1 376.0,287.8 378.0,287.6 380.0,287.3 382.0,287.0 384.0,286.7 386.0,286.4 388.0,286.1 390.0,285.8 392.0,285.5 394.1,285.1 396.1,284.7 398.1,284.3 400.1,283.8 402.1,283.3 404.1,282.8 406.1,282.2 408.1,281.6 410.1,281.0 412.1,280.3 414.1,279.5 416.1,278.7 418.2,277.8 420.2,276.9 422.2,275.8 424.2,274.8 426.2,273.7 428.2,272.4 430.2,271.1 432.2,269.5 434.2,267.7 436.2,265.7 438.2,263.6 440.2,261.0 442.3,258.3 444.3,256.2 446.3,254.7 448.3,253.4 450.3,252.2 452.3,250.9" fill="none" stroke="#ff1010" stroke-width="2.0" stroke-linejoin="round" stroke-linecap="round"/>
<polyline points="187.2,299.8 189.0,299.7 190.8,299.6 192.5,299.5 194.3,299.4 196.1,299.3 197.9,299.2 199.7,299.1 201.4,299.0 203.2,298.9 205.0,298.8 206.8,298.7 208.6,298.5 210.3,298.4 212.1,298.3 213.9,298.2 215.7,298.1 217.4,298.0 219.2,297.9 221.0,297.8 222.8,297.7 224.6,297.6 226.3,297.5 228.1,297.4 229.9,297.3 231.7,297.2 233.5,297.1 235.2,297.0 237.0,296.9 238.8,296.8 240.6,296.7 242.4,296.6 244.1,296.5 245.9,296.4 247.7,296.3 249.5,296.2 251.3,296.0 253.0,295.9 254.8,295.8 256.6,295.7 258.4,295.6 260.1,295.5 261.9,295.4 263.7,295.3 265.5,295.2 267.3,295.1 269.0,295.0 270.8,294.8 272.6,294.7 274.4,294.6 276.2,294.5 277.9,294.4 279.7,294.3 281.5,294.2 283.3,294.1 285.1,294.0 286.8,293.9 288.6,293.8 290.4,293.6 292.2,293.5 294.0,293.4 295.7,293.3 297.5,293.2 299.3,293.1 301.1,292.9 302.8,292.8 304.6,292.7 306.4,292.6 308.2,292.4 310.0,292.3 311.7,292.1 313.5,292.0 315.3,291.8 317.1,291.7 318.9,291.5 320.6,291.4 322.4,291.2 324.2,291.1 326.0,290.9 327.8,290.7 329.5,290.6 331.3,290.4 333.1,290.2 334.9,290.0 336.7,289.8 338.4,289.7 340.2,289.5 342.0,289.3 343.8,289.1 345.5,288.9 347.3,288.7 349.1,288.4 350.9,288.2 352.7,288.0 354.4,287.8 356.2,287.6 358.0,287.3 359.8,287.1 361.6,286.9 363.3,286.6 365.1,286.4 366.9,286.1 368.7,285.8 370.5,285.5 372.2,285.3 374.0,285.0 375.8,284.6 377.6,284.3 379.4,284.0 381.1,283.6 382.9,283.3 384.7,282.9 386.5,282.5 388.2,282.0 390.0,281.6 391.8,281.1 393.6,280.6 395.4,280.0 397.1,279.4 398.9,278.9 400.7,278.2 402.5,277.6 404.3,276.9 406.0,276.2 407.8,275.4 409.6,274.6 411.4,273.7 413.2,272.7 414.9,271.7 416.7,270.5 418.5,269.3 420.3,268.1 422.1,266.7 423.8,265.3 425.6,264.0 427.4,262.6 429.2,261.5 430.9,260.4 432.7,259.2 434.5,257.8 436.3,256.2 438.1,254.9 439.8,253.8 441.6,252.9 443.4,252.3 445.2,251.9 447.0,251.6 448.7,251.4 450.5,251.2 452.3,250.9" fill="none" stroke="#ff1010" stroke-width="2.0" stroke-linejoin="round" stroke-linecap="round"/>
<circle cx="52.6" cy="313.7" r="2.6" fill="#ff1010"/>
<circle cx="71.0" cy="310.3" r="2.6" fill="#ff1010"/>
<circle cx="82.3" cy="308.8" r="2.6" fill="#ff1010"/>
<circle cx="90.0" cy="307.9" r="2.6" fill="#ff1010"/>
<circle cx="97.7" cy="307.2" r="2.6" fill="#ff1010"/>
<circle cx="112.5" cy="305.8" r="2.6" fill="#ff1010"/>
<circle cx="126.7" cy="304.6" r="2.6" fill="#ff1010"/>
<circle cx="140.9" cy="303.5" r="2.6" fill="#ff1010"/>
<circle cx="155.1" cy="302.3" r="2.6" fill="#ff1010"/>
<circle cx="169.3" cy="301.2" r="2.6" fill="#ff1010"/>
<circle cx="183.6" cy="300.1" r="2.6" fill="#ff1010"/>
<circle cx="197.8" cy="299.1" r="2.6" fill="#ff1010"/>
<circle cx="212.0" cy="298.1" r="2.6" fill="#ff1010"/>
<circle cx="226.2" cy="297.3" r="2.6" fill="#ff1010"/>
<circle cx="240.4" cy="296.5" r="2.6" fill="#ff1010"/>
<circle cx="254.6" cy="295.8" r="2.6" fill="#ff1010"/>
<circle cx="268.8" cy="295.2" r="2.6" fill="#ff1010"/>
<circle cx="283.1" cy="294.8" r="2.6" fill="#ff1010"/>
<circle cx="297.3" cy="294.3" r="2.6" fill="#ff1010"/>
<circle cx="311.5" cy="293.7" r="2.6" fill="#ff1010"/>
<circle cx="325.7" cy="292.8" r="2.6" fill="#ff1010"/>
<circle cx="339.9" cy="291.7" r="2.6" fill="#ff1010"/>
<circle cx="354.1" cy="290.4" r="2.6" fill="#ff1010"/>
<circle cx="368.4" cy="288.8" r="2.6" fill="#ff1010"/>
<circle cx="382.6" cy="286.9" r="2.6" fill="#ff1010"/>
<circle cx="396.8" cy="284.6" r="2.6" fill="#ff1010"/>
<circle cx="410.8" cy="280.8" r="2.6" fill="#ff1010"/>
<circle cx="417.2" cy="278.2" r="2.6" fill="#ff1010"/>
<circle cx="424.5" cy="274.6" r="2.6" fill="#ff1010"/>
<circle cx="431.0" cy="270.4" r="2.6" fill="#ff1010"/>
<circle cx="437.5" cy="264.4" r="2.6" fill="#ff1010"/>
<circle cx="443.6" cy="256.8" r="2.6" fill="#ff1010"/>
<circle cx="448.4" cy="253.3" r="2.6" fill="#ff1010"/>
<circle cx="452.5" cy="250.8" r="2.6" fill="#ff1010"/>
<circle cx="453.3" cy="250.7" r="2.6" fill="#ff1010"/>
<circle cx="448.8" cy="251.4" r="2.6" fill="#ff1010"/>
<circle cx="438.3" cy="254.8" r="2.6" fill="#ff1010"/>
<circle cx="433.0" cy="259.0" r="2.6" fill="#ff1010"/>
<circle cx="423.3" cy="265.8" r="2.6" fill="#ff1010"/>
<circle cx="419.3" cy="268.8" r="2.6" fill="#ff1010"/>
<circle cx="412.0" cy="273.4" r="2.6" fill="#ff1010"/>
<circle cx="397.0" cy="279.5" r="2.6" fill="#ff1010"/>
<circle cx="383.2" cy="283.2" r="2.6" fill="#ff1010"/>
<circle cx="368.6" cy="285.8" r="2.6" fill="#ff1010"/>
<circle cx="354.9" cy="287.7" r="2.6" fill="#ff1010"/>
<circle cx="341.1" cy="289.4" r="2.6" fill="#ff1010"/>
<circle cx="326.9" cy="290.8" r="2.6" fill="#ff1010"/>
<circle cx="312.8" cy="292.1" r="2.6" fill="#ff1010"/>
<circle cx="298.6" cy="293.1" r="2.6" fill="#ff1010"/>
<circle cx="284.4" cy="294.0" r="2.6" fill="#ff1010"/>
<circle cx="270.2" cy="294.9" r="2.6" fill="#ff1010"/>
<circle cx="256.1" cy="295.8" r="2.6" fill="#ff1010"/>
<circle cx="241.9" cy="296.6" r="2.6" fill="#ff1010"/>
<circle cx="227.7" cy="297.4" r="2.6" fill="#ff1010"/>
<circle cx="213.5" cy="298.3" r="2.6" fill="#ff1010"/>
<circle cx="199.3" cy="299.1" r="2.6" fill="#ff1010"/>
<polyline points="53.3,342.6 55.3,342.4 57.3,342.2 59.3,342.0 61.3,341.8 63.3,341.7 65.3,341.5 67.3,341.3 69.4,341.1 71.4,340.9 73.4,340.6 75.4,340.4 77.4,340.1 79.4,339.9 81.4,339.7 83.4,339.5 85.4,339.3 87.4,339.1 89.4,338.9 91.4,338.8 93.4,338.6 95.4,338.4 97.4,338.3 99.5,338.1 101.5,337.9 103.5,337.7 105.5,337.5 107.5,337.3 109.5,337.2 111.5,337.0 113.5,336.9 115.5,336.9 117.5,336.8 119.5,336.7 121.5,336.6 123.5,336.6 125.5,336.5 127.5,336.4 129.5,336.4 131.6,336.3 133.6,336.3 135.6,336.2 137.6,336.2 139.6,336.1 141.6,336.1 143.6,336.0 145.6,336.0 147.6,336.0 149.6,335.9 151.6,335.9 153.6,335.8 155.6,335.8 157.6,335.8 159.6,335.7 161.7,335.7 163.7,335.7 165.7,335.7 167.7,335.6 169.7,335.6 171.7,335.6 173.7,335.5 175.7,335.5 177.7,335.5 179.7,335.5 181.7,335.4 183.7,335.4 185.7,335.4 187.7,335.3 189.7,335.3 191.8,335.3 193.8,335.3 195.8,335.2 197.8,335.2 199.8,335.2 201.8,335.1 203.8,335.1 205.8,335.0 207.8,335.0 209.8,335.0 211.8,334.9 213.8,334.9 215.8,334.8 217.8,334.8 219.8,334.8 221.8,334.7 223.9,334.7 225.9,334.6 227.9,334.6 229.9,334.6 231.9,334.5 233.9,334.5 235.9,334.5 237.9,334.4 239.9,334.4 241.9,334.4 243.9,334.3 245.9,334.3 247.9,334.3 249.9,334.2 251.9,334.2 254.0,334.2 256.0,334.2 258.0,334.2 260.0,334.1 262.0,334.1 264.0,334.1 266.0,334.1 268.0,334.1 270.0,334.1 272.0,334.1 274.0,334.1 276.0,334.0 278.0,334.0 280.0,334.0 282.0,334.0 284.1,334.0 286.1,334.0 288.1,334.0 290.1,334.0 292.1,334.0 294.1,333.9 296.1,333.9 298.1,333.9 300.1,333.9 302.1,333.9 304.1,333.9 306.1,333.9 308.1,333.8 310.1,333.8 312.1,333.8 314.1,333.8 316.2,333.8 318.2,333.8 320.2,333.8 322.2,333.7 324.2,333.7 326.2,333.7 328.2,333.7 330.2,333.7 332.2,333.7 334.2,333.7 336.2,333.6 338.2,333.6 340.2,333.6 342.2,333.6 344.2,333.6 346.3,333.5 348.3,333.5 350.3,333.5 352.3,333.5 354.3,333.5 356.3,333.4 358.3,333.4 360.3,333.4 362.3,333.4 364.3,333.3 366.3,333.3 368.3,333.3 370.3,333.2 372.3,333.2 374.3,333.1 376.4,333.1 378.4,333.0 380.4,333.0 382.4,332.9 384.4,332.9 386.4,332.8 388.4,332.7 390.4,332.7 392.4,332.6 394.4,332.5 396.4,332.5 398.4,332.4 400.4,332.4 402.4,332.4 404.4,332.3 406.4,332.3 408.5,332.2 410.5,332.2 412.5,332.1 414.5,332.0 416.5,331.9 418.5,331.8 420.5,331.7 422.5,331.6 424.5,331.5 426.5,331.4 428.5,331.2 430.5,331.1 432.5,330.7 434.5,330.2 436.5,329.6 438.6,329.0 440.6,328.4 442.6,327.7 444.6,327.1 446.6,326.4 448.6,325.8 450.6,325.1 452.6,324.5" fill="none" stroke="#000000" stroke-width="2.0" stroke-linejoin="round" stroke-linecap="round"/>
<rect x="51.2" y="340.5" width="4.2" height="4.2" fill="#000000"/>
<rect x="68.9" y="338.8" width="4.2" height="4.2" fill="#000000"/>
<rect x="80.2" y="337.5" width="4.2" height="4.2" fill="#000000"/>
<rect x="87.9" y="336.8" width="4.2" height="4.2" fill="#000000"/>
<rect x="95.6" y="336.2" width="4.2" height="4.2" fill="#000000"/>
<rect x="110.4" y="334.9" width="4.2" height="4.2" fill="#000000"/>
<rect x="124.6" y="334.4" width="4.2" height="4.2" fill="#000000"/>
<rect x="138.8" y="334.0" width="4.2" height="4.2" fill="#000000"/>
<rect x="153.0" y="333.7" width="4.2" height="4.2" fill="#000000"/>
<rect x="167.2" y="333.5" width="4.2" height="4.2" fill="#000000"/>
<rect x="181.5" y="333.3" width="4.2" height="4.2" fill="#000000"/>
<rect x="195.7" y="333.1" width="4.2" height="4.2" fill="#000000"/>
<rect x="209.9" y="332.8" width="4.2" height="4.2" fill="#000000"/>
<rect x="224.1" y="332.5" width="4.2" height="4.2" fill="#000000"/>
<rect x="238.3" y="332.3" width="4.2" height="4.2" fill="#000000"/>
<rect x="252.5" y="332.1" width="4.2" height="4.2" fill="#000000"/>
<rect x="266.7" y="332.0" width="4.2" height="4.2" fill="#000000"/>
<rect x="281.0" y="331.9" width="4.2" height="4.2" fill="#000000"/>
<rect x="295.2" y="331.8" width="4.2" height="4.2" fill="#000000"/>
<rect x="309.4" y="331.7" width="4.2" height="4.2" fill="#000000"/>
<rect x="323.6" y="331.6" width="4.2" height="4.2" fill="#000000"/>
<rect x="337.8" y="331.5" width="4.2" height="4.2" fill="#000000"/>
<rect x="352.0" y="331.4" width="4.2" height="4.2" fill="#000000"/>
<rect x="366.3" y="331.2" width="4.2" height="4.2" fill="#000000"/>
<rect x="380.5" y="330.8" width="4.2" height="4.2" fill="#000000"/>
<rect x="394.7" y="330.4" width="4.2" height="4.2" fill="#000000"/>
<rect x="408.7" y="330.1" width="4.2" height="4.2" fill="#000000"/>
<rect x="415.1" y="329.8" width="4.2" height="4.2" fill="#000000"/>
<rect x="422.4" y="329.4" width="4.2" height="4.2" fill="#000000"/>
<rect x="428.9" y="328.9" width="4.2" height="4.2" fill="#000000"/>
<rect x="435.4" y="327.2" width="4.2" height="4.2" fill="#000000"/>
<rect x="441.5" y="325.3" width="4.2" height="4.2" fill="#000000"/>
<rect x="446.3" y="323.7" width="4.2" height="4.2" fill="#000000"/>
<rect x="450.4" y="322.4" width="4.2" height="4.2" fill="#000000"/>
<clipPath id="cb"><rect x="521" y="10" width="424.3" height="342"/></clipPath><g clip-path="url(#cb)">
<polyline points="527.9,251.3 527.9,266.0 530.0,278.0 530.6,298.7 530.6,315.5 531.4,329.4 532.2,337.6 534.0,341.0 536.3,343.4 539.0,345.0 542.9,345.8 548.0,346.1 553.0,346.2 559.3,346.0 565.5,345.8 574.6,345.3 588.1,344.7 605.2,344.2 622.5,343.5 646.5,342.4 683.9,342.2 751.0,339.9 864.8,342.6" fill="none" stroke="#000000" stroke-width="1.8" stroke-linejoin="round" stroke-linecap="round"/>
<circle cx="527.9" cy="251.3" r="2.4" fill="#000000"/>
<circle cx="527.9" cy="266.0" r="2.4" fill="#000000"/>
<circle cx="530.0" cy="278.0" r="2.4" fill="#000000"/>
<circle cx="530.6" cy="298.7" r="2.4" fill="#000000"/>
<circle cx="530.6" cy="315.5" r="2.4" fill="#000000"/>
<circle cx="531.4" cy="329.4" r="2.4" fill="#000000"/>
<circle cx="532.2" cy="337.6" r="2.4" fill="#000000"/>
<circle cx="534.0" cy="341.0" r="2.4" fill="#000000"/>
<circle cx="536.3" cy="343.4" r="2.4" fill="#000000"/>
<circle cx="539.0" cy="345.0" r="2.4" fill="#000000"/>
<circle cx="542.9" cy="345.8" r="2.4" fill="#000000"/>
<circle cx="548.0" cy="346.1" r="2.4" fill="#000000"/>
<circle cx="553.0" cy="346.2" r="2.4" fill="#000000"/>
<circle cx="559.3" cy="346.0" r="2.4" fill="#000000"/>
<circle cx="565.5" cy="345.8" r="2.4" fill="#000000"/>
<circle cx="574.6" cy="345.3" r="2.4" fill="#000000"/>
<circle cx="588.1" cy="344.7" r="2.4" fill="#000000"/>
<circle cx="605.2" cy="344.2" r="2.4" fill="#000000"/>
<circle cx="622.5" cy="343.5" r="2.4" fill="#000000"/>
<circle cx="646.5" cy="342.4" r="2.4" fill="#000000"/>
<circle cx="683.9" cy="342.2" r="2.4" fill="#000000"/>
<circle cx="751.0" cy="339.9" r="2.4" fill="#000000"/>
<circle cx="864.8" cy="342.6" r="2.4" fill="#000000"/>
<polyline points="528.8,249.0 528.0,255.0 530.3,261.1 531.1,265.5 531.9,270.5 532.8,276.0 533.8,281.1 535.0,286.0 536.6,291.6 538.5,296.0 540.8,299.9 543.0,302.0 545.5,302.9 549.0,302.5 553.7,301.5 559.6,299.2 565.5,296.3 573.7,292.8 586.6,289.8 603.1,286.7 620.1,284.9 642.6,277.9 679.3,277.1 758.8,283.0 890.8,314.7" fill="none" stroke="#ff1010" stroke-width="2.2" stroke-linejoin="round" stroke-linecap="round"/>
<circle cx="528.8" cy="249.0" r="2.4" fill="#ff1010"/>
<circle cx="528.0" cy="255.0" r="2.4" fill="#ff1010"/>
<circle cx="530.3" cy="261.1" r="2.4" fill="#ff1010"/>
<circle cx="531.1" cy="265.5" r="2.4" fill="#ff1010"/>
<circle cx="531.9" cy="270.5" r="2.4" fill="#ff1010"/>
<circle cx="532.8" cy="276.0" r="2.4" fill="#ff1010"/>
<circle cx="533.8" cy="281.1" r="2.4" fill="#ff1010"/>
<circle cx="535.0" cy="286.0" r="2.4" fill="#ff1010"/>
<circle cx="536.6" cy="291.6" r="2.4" fill="#ff1010"/>
<circle cx="538.5" cy="296.0" r="2.4" fill="#ff1010"/>
<circle cx="540.8" cy="299.9" r="2.4" fill="#ff1010"/>
<circle cx="543.0" cy="302.0" r="2.4" fill="#ff1010"/>
<circle cx="545.5" cy="302.9" r="2.4" fill="#ff1010"/>
<circle cx="549.0" cy="302.5" r="2.4" fill="#ff1010"/>
<circle cx="553.7" cy="301.5" r="2.4" fill="#ff1010"/>
<circle cx="559.6" cy="299.2" r="2.4" fill="#ff1010"/>
<circle cx="565.5" cy="296.3" r="2.4" fill="#ff1010"/>
<circle cx="573.7" cy="292.8" r="2.4" fill="#ff1010"/>
<circle cx="586.6" cy="289.8" r="2.4" fill="#ff1010"/>
<circle cx="603.1" cy="286.7" r="2.4" fill="#ff1010"/>
<circle cx="620.1" cy="284.9" r="2.4" fill="#ff1010"/>
<circle cx="642.6" cy="277.9" r="2.4" fill="#ff1010"/>
<circle cx="679.3" cy="277.1" r="2.4" fill="#ff1010"/>
<circle cx="758.8" cy="283.0" r="2.4" fill="#ff1010"/>
<circle cx="890.8" cy="314.7" r="2.4" fill="#ff1010"/>
<circle cx="528.4" cy="252.0" r="2.4" fill="#ff1010"/>
<circle cx="528.8" cy="257.0" r="2.4" fill="#ff1010"/>
<circle cx="529.5" cy="259.1" r="2.4" fill="#ff1010"/>
<circle cx="530.7" cy="263.3" r="2.4" fill="#ff1010"/>
<circle cx="531.5" cy="268.0" r="2.4" fill="#ff1010"/>
<circle cx="532.3" cy="273.2" r="2.4" fill="#ff1010"/>
<circle cx="533.3" cy="278.6" r="2.4" fill="#ff1010"/>
<circle cx="534.4" cy="283.6" r="2.4" fill="#ff1010"/>
<circle cx="535.8" cy="288.8" r="2.4" fill="#ff1010"/>
<circle cx="537.5" cy="293.8" r="2.4" fill="#ff1010"/>
<polyline points="529.1,209.3 530.3,219.9 531.1,226.0 531.9,232.8 533.0,238.0 534.2,242.2 536.0,246.0 538.5,248.7 541.0,250.0 543.2,250.4 546.5,249.2 550.2,246.9 553.5,244.0 557.3,241.0 561.0,236.0 565.5,230.4 573.7,223.4 587.8,217.5 607.0,213.5 622.5,220.6 645.6,229.0 681.7,241.7 751.3,250.7 879.8,259.6" fill="none" stroke="#1010ff" stroke-width="2.2" stroke-linejoin="round" stroke-linecap="round"/>
<path d="M529.1 206.3L532.1 211.6L526.1 211.6Z" fill="#1010ff"/>
<path d="M530.3 216.9L533.3 222.2L527.3 222.2Z" fill="#1010ff"/>
<path d="M531.1 223.0L534.1 228.2L528.1 228.2Z" fill="#1010ff"/>
<path d="M531.9 229.8L534.9 235.1L528.9 235.1Z" fill="#1010ff"/>
<path d="M533.0 235.0L536.0 240.2L530.0 240.2Z" fill="#1010ff"/>
<path d="M534.2 239.2L537.2 244.4L531.2 244.4Z" fill="#1010ff"/>
<path d="M536.0 243.0L539.0 248.2L533.0 248.2Z" fill="#1010ff"/>
<path d="M538.5 245.7L541.5 250.9L535.5 250.9Z" fill="#1010ff"/>
<path d="M541.0 247.0L544.0 252.2L538.0 252.2Z" fill="#1010ff"/>
<path d="M543.2 247.4L546.2 252.7L540.2 252.7Z" fill="#1010ff"/>
<path d="M546.5 246.2L549.5 251.4L543.5 251.4Z" fill="#1010ff"/>
<path d="M550.2 243.9L553.2 249.2L547.2 249.2Z" fill="#1010ff"/>
<path d="M553.5 241.0L556.5 246.2L550.5 246.2Z" fill="#1010ff"/>
<path d="M557.3 238.0L560.3 243.2L554.3 243.2Z" fill="#1010ff"/>
<path d="M561.0 233.0L564.0 238.2L558.0 238.2Z" fill="#1010ff"/>
<path d="M565.5 227.4L568.5 232.7L562.5 232.7Z" fill="#1010ff"/>
<path d="M573.7 220.4L576.7 225.7L570.7 225.7Z" fill="#1010ff"/>
<path d="M587.8 214.5L590.8 219.8L584.8 219.8Z" fill="#1010ff"/>
<path d="M607.0 210.5L610.0 215.8L604.0 215.8Z" fill="#1010ff"/>
<path d="M622.5 217.6L625.5 222.8L619.5 222.8Z" fill="#1010ff"/>
<path d="M645.6 226.0L648.6 231.2L642.6 231.2Z" fill="#1010ff"/>
<path d="M681.7 238.7L684.7 243.9L678.7 243.9Z" fill="#1010ff"/>
<path d="M751.3 247.7L754.3 252.9L748.3 252.9Z" fill="#1010ff"/>
<path d="M879.8 256.6L882.8 261.9L876.8 261.9Z" fill="#1010ff"/>
<path d="M529.4 209.0L532.4 214.2L526.4 214.2Z" fill="#1010ff"/>
<path d="M529.7 211.6L532.7 216.9L526.7 216.9Z" fill="#1010ff"/>
<path d="M530.0 214.2L533.0 219.5L527.0 219.5Z" fill="#1010ff"/>
<path d="M530.7 219.9L533.7 225.2L527.7 225.2Z" fill="#1010ff"/>
<path d="M531.4 225.3L534.4 230.5L528.4 230.5Z" fill="#1010ff"/>
<path d="M531.6 227.5L534.6 232.8L528.6 232.8Z" fill="#1010ff"/>
<path d="M532.5 232.4L535.5 237.7L529.5 237.7Z" fill="#1010ff"/>
<path d="M533.6 237.1L536.6 242.3L530.6 242.3Z" fill="#1010ff"/>
<path d="M535.1 241.1L538.1 246.3L532.1 246.3Z" fill="#1010ff"/>
<path d="M537.2 244.3L540.2 249.6L534.2 249.6Z" fill="#1010ff"/>
<polyline points="529.1,165.4 530.0,170.0 531.0,176.4 532.0,182.0 533.3,188.2 534.7,193.5 536.1,198.7 539.6,204.6 543.2,205.8 546.5,205.0 550.2,203.4 554.0,199.0 558.4,194.0 564.3,187.0 573.7,183.5 586.6,179.2 607.0,177.5 622.5,178.6 644.2,179.7 681.1,192.4 749.9,198.9 870.3,212.6" fill="none" stroke="#1a8a1a" stroke-width="2.2" stroke-linejoin="round" stroke-linecap="round"/>
<path d="M529.1 168.4L532.1 163.2L526.1 163.2Z" fill="#1a8a1a"/>
<path d="M530.0 173.0L533.0 167.8L527.0 167.8Z" fill="#1a8a1a"/>
<path d="M531.0 179.4L534.0 174.2L528.0 174.2Z" fill="#1a8a1a"/>
<path d="M532.0 185.0L535.0 179.8L529.0 179.8Z" fill="#1a8a1a"/>
<path d="M533.3 191.2L536.3 185.9L530.3 185.9Z" fill="#1a8a1a"/>
<path d="M534.7 196.5L537.7 191.2L531.7 191.2Z" fill="#1a8a1a"/>
<path d="M536.1 201.7L539.1 196.4L533.1 196.4Z" fill="#1a8a1a"/>
<path d="M539.6 207.6L542.6 202.3L536.6 202.3Z" fill="#1a8a1a"/>
<path d="M543.2 208.8L546.2 203.6L540.2 203.6Z" fill="#1a8a1a"/>
<path d="M546.5 208.0L549.5 202.8L543.5 202.8Z" fill="#1a8a1a"/>
<path d="M550.2 206.4L553.2 201.2L547.2 201.2Z" fill="#1a8a1a"/>
<path d="M554.0 202.0L557.0 196.8L551.0 196.8Z" fill="#1a8a1a"/>
<path d="M558.4 197.0L561.4 191.8L555.4 191.8Z" fill="#1a8a1a"/>
<path d="M564.3 190.0L567.3 184.8L561.3 184.8Z" fill="#1a8a1a"/>
<path d="M573.7 186.5L576.7 181.2L570.7 181.2Z" fill="#1a8a1a"/>
<path d="M586.6 182.2L589.6 176.9L583.6 176.9Z" fill="#1a8a1a"/>
<path d="M607.0 180.5L610.0 175.2L604.0 175.2Z" fill="#1a8a1a"/>
<path d="M622.5 181.6L625.5 176.3L619.5 176.3Z" fill="#1a8a1a"/>
<path d="M644.2 182.7L647.2 177.4L641.2 177.4Z" fill="#1a8a1a"/>
<path d="M681.1 195.4L684.1 190.2L678.1 190.2Z" fill="#1a8a1a"/>
<path d="M749.9 201.9L752.9 196.7L746.9 196.7Z" fill="#1a8a1a"/>
<path d="M870.3 215.6L873.3 210.3L867.3 210.3Z" fill="#1a8a1a"/>
<path d="M529.5 170.7L532.5 165.4L526.5 165.4Z" fill="#1a8a1a"/>
<path d="M530.3 175.1L533.3 169.9L527.3 169.9Z" fill="#1a8a1a"/>
<path d="M530.7 177.3L533.7 172.0L527.7 172.0Z" fill="#1a8a1a"/>
<path d="M531.5 182.2L534.5 176.9L528.5 176.9Z" fill="#1a8a1a"/>
<path d="M532.6 188.1L535.6 182.8L529.6 182.8Z" fill="#1a8a1a"/>
<path d="M534.0 193.8L537.0 188.6L531.0 188.6Z" fill="#1a8a1a"/>
<path d="M535.4 199.1L538.4 193.8L532.4 193.8Z" fill="#1a8a1a"/>
<path d="M537.3 203.7L540.3 198.4L534.3 198.4Z" fill="#1a8a1a"/>
<path d="M538.4 205.6L541.4 200.4L535.4 200.4Z" fill="#1a8a1a"/>
<polyline points="528.0,110.0 529.5,108.0 531.0,114.0 532.6,123.2 535.0,133.7 538.5,142.0 543.2,145.5 547.9,143.1 552.6,139.6 558.4,131.4 565.5,131.4 573.7,130.2 587.8,134.4 607.0,139.4 622.5,144.5 644.5,150.7 680.3,157.2 745.9,160.6 873.9,170.8" fill="none" stroke="#ff00ff" stroke-width="2.2" stroke-linejoin="round" stroke-linecap="round"/>
<path d="M528.0 106.5L530.8 110.0L528.0 113.5L525.2 110.0Z" fill="#ff00ff"/>
<path d="M529.5 104.5L532.3 108.0L529.5 111.5L526.7 108.0Z" fill="#ff00ff"/>
<path d="M531.0 110.5L533.8 114.0L531.0 117.5L528.2 114.0Z" fill="#ff00ff"/>
<path d="M532.6 119.7L535.4 123.2L532.6 126.7L529.8 123.2Z" fill="#ff00ff"/>
<path d="M535.0 130.2L537.8 133.7L535.0 137.2L532.2 133.7Z" fill="#ff00ff"/>
<path d="M538.5 138.5L541.3 142.0L538.5 145.5L535.7 142.0Z" fill="#ff00ff"/>
<path d="M543.2 142.0L546.0 145.5L543.2 149.0L540.4 145.5Z" fill="#ff00ff"/>
<path d="M547.9 139.6L550.7 143.1L547.9 146.6L545.1 143.1Z" fill="#ff00ff"/>
<path d="M552.6 136.1L555.4 139.6L552.6 143.1L549.8 139.6Z" fill="#ff00ff"/>
<path d="M558.4 127.9L561.2 131.4L558.4 134.9L555.6 131.4Z" fill="#ff00ff"/>
<path d="M565.5 127.9L568.3 131.4L565.5 134.9L562.7 131.4Z" fill="#ff00ff"/>
<path d="M573.7 126.7L576.5 130.2L573.7 133.7L570.9 130.2Z" fill="#ff00ff"/>
<path d="M587.8 130.9L590.6 134.4L587.8 137.9L585.0 134.4Z" fill="#ff00ff"/>
<path d="M607.0 135.9L609.8 139.4L607.0 142.9L604.2 139.4Z" fill="#ff00ff"/>
<path d="M622.5 141.0L625.3 144.5L622.5 148.0L619.7 144.5Z" fill="#ff00ff"/>
<path d="M644.5 147.2L647.3 150.7L644.5 154.2L641.7 150.7Z" fill="#ff00ff"/>
<path d="M680.3 153.7L683.1 157.2L680.3 160.7L677.5 157.2Z" fill="#ff00ff"/>
<path d="M745.9 157.1L748.7 160.6L745.9 164.1L743.1 160.6Z" fill="#ff00ff"/>
<path d="M873.9 167.3L876.7 170.8L873.9 174.3L871.1 170.8Z" fill="#ff00ff"/>
<path d="M530.2 107.5L533.0 111.0L530.2 114.5L527.5 111.0Z" fill="#ff00ff"/>
<path d="M531.5 113.6L534.3 117.1L531.5 120.5L528.8 117.1Z" fill="#ff00ff"/>
<path d="M532.1 116.7L534.8 120.1L532.1 123.6L529.3 120.1Z" fill="#ff00ff"/>
<path d="M533.2 122.4L536.0 125.8L533.2 129.3L530.4 125.8Z" fill="#ff00ff"/>
<path d="M533.8 125.0L536.6 128.4L533.8 131.9L531.0 128.4Z" fill="#ff00ff"/>
<path d="M534.4 127.6L537.2 131.1L534.4 134.5L531.6 131.1Z" fill="#ff00ff"/>
<path d="M536.2 133.0L538.9 136.5L536.2 139.9L533.4 136.5Z" fill="#ff00ff"/>
<path d="M537.3 135.8L540.1 139.2L537.3 142.7L534.6 139.2Z" fill="#ff00ff"/>
<polyline points="529.1,82.1 530.3,91.0 531.9,100.4 533.5,108.0 535.0,114.5 536.8,119.5 538.5,123.9 541.0,126.5 543.2,128.1 546.5,128.5 550.2,126.7 554.0,125.5 558.4,123.9 565.5,121.5 574.9,117.6 587.8,113.3 608.5,110.1 623.1,105.6 642.8,99.4 675.5,87.6 746.5,91.5 927.4,132.7" fill="none" stroke="#ff8a24" stroke-width="2.2" stroke-linejoin="round" stroke-linecap="round"/>
<path d="M526.1 82.1L531.4 79.1L531.4 85.1Z" fill="#ff8a24"/>
<path d="M527.3 91.0L532.5 88.0L532.5 94.0Z" fill="#ff8a24"/>
<path d="M528.9 100.4L534.1 97.4L534.1 103.4Z" fill="#ff8a24"/>
<path d="M530.5 108.0L535.8 105.0L535.8 111.0Z" fill="#ff8a24"/>
<path d="M532.0 114.5L537.2 111.5L537.2 117.5Z" fill="#ff8a24"/>
<path d="M533.8 119.5L539.0 116.5L539.0 122.5Z" fill="#ff8a24"/>
<path d="M535.5 123.9L540.8 120.9L540.8 126.9Z" fill="#ff8a24"/>
<path d="M538.0 126.5L543.2 123.5L543.2 129.5Z" fill="#ff8a24"/>
<path d="M540.2 128.1L545.5 125.1L545.5 131.1Z" fill="#ff8a24"/>
<path d="M543.5 128.5L548.8 125.5L548.8 131.5Z" fill="#ff8a24"/>
<path d="M547.2 126.7L552.5 123.7L552.5 129.7Z" fill="#ff8a24"/>
<path d="M551.0 125.5L556.2 122.5L556.2 128.5Z" fill="#ff8a24"/>
<path d="M555.4 123.9L560.6 120.9L560.6 126.9Z" fill="#ff8a24"/>
<path d="M562.5 121.5L567.8 118.5L567.8 124.5Z" fill="#ff8a24"/>
<path d="M571.9 117.6L577.1 114.6L577.1 120.6Z" fill="#ff8a24"/>
<path d="M584.8 113.3L590.0 110.3L590.0 116.3Z" fill="#ff8a24"/>
<path d="M605.5 110.1L610.8 107.1L610.8 113.1Z" fill="#ff8a24"/>
<path d="M620.1 105.6L625.4 102.6L625.4 108.6Z" fill="#ff8a24"/>
<path d="M639.8 99.4L645.0 96.4L645.0 102.4Z" fill="#ff8a24"/>
<path d="M672.5 87.6L677.8 84.6L677.8 90.6Z" fill="#ff8a24"/>
<path d="M743.5 91.5L748.8 88.5L748.8 94.5Z" fill="#ff8a24"/>
<path d="M924.4 132.7L929.6 129.7L929.6 135.7Z" fill="#ff8a24"/>
<path d="M526.5 85.1L531.8 82.1L531.8 88.1Z" fill="#ff8a24"/>
<path d="M526.9 88.0L532.1 85.0L532.1 91.0Z" fill="#ff8a24"/>
<path d="M527.8 94.1L533.1 91.1L533.1 97.1Z" fill="#ff8a24"/>
<path d="M528.4 97.3L533.6 94.3L533.6 100.3Z" fill="#ff8a24"/>
<path d="M529.4 102.9L534.7 99.9L534.7 105.9Z" fill="#ff8a24"/>
<path d="M530.0 105.5L535.2 102.5L535.2 108.5Z" fill="#ff8a24"/>
<path d="M531.0 110.2L536.2 107.2L536.2 113.2Z" fill="#ff8a24"/>
<path d="M531.5 112.3L536.8 109.3L536.8 115.3Z" fill="#ff8a24"/>
<path d="M532.9 117.0L538.1 114.0L538.1 120.0Z" fill="#ff8a24"/>
<path d="M534.6 121.7L539.9 118.7L539.9 124.7Z" fill="#ff8a24"/>
<polyline points="527.9,39.4 530.3,42.9 531.5,48.0 532.6,53.5 534.0,58.0 536.1,61.7 539.0,64.5 542.0,66.4 546.0,68.2 550.2,69.4 556.0,70.5 562.0,71.1 569.0,71.4 576.0,71.5 585.4,71.3 598.3,70.6 617.5,69.9 647.9,69.0 712.1,70.4 845.1,70.7 945.2,69.0" fill="none" stroke="#12c6ca" stroke-width="2.2" stroke-linejoin="round" stroke-linecap="round"/>
<path d="M530.9 39.4L525.6 36.4L525.6 42.4Z" fill="#12c6ca"/>
<path d="M533.3 42.9L528.0 39.9L528.0 45.9Z" fill="#12c6ca"/>
<path d="M534.5 48.0L529.2 45.0L529.2 51.0Z" fill="#12c6ca"/>
<path d="M535.6 53.5L530.4 50.5L530.4 56.5Z" fill="#12c6ca"/>
<path d="M537.0 58.0L531.8 55.0L531.8 61.0Z" fill="#12c6ca"/>
<path d="M539.1 61.7L533.9 58.7L533.9 64.7Z" fill="#12c6ca"/>
<path d="M542.0 64.5L536.8 61.5L536.8 67.5Z" fill="#12c6ca"/>
<path d="M545.0 66.4L539.8 63.4L539.8 69.4Z" fill="#12c6ca"/>
<path d="M549.0 68.2L543.8 65.2L543.8 71.2Z" fill="#12c6ca"/>
<path d="M553.2 69.4L548.0 66.4L548.0 72.4Z" fill="#12c6ca"/>
<path d="M559.0 70.5L553.8 67.5L553.8 73.5Z" fill="#12c6ca"/>
<path d="M565.0 71.1L559.8 68.1L559.8 74.1Z" fill="#12c6ca"/>
<path d="M572.0 71.4L566.8 68.4L566.8 74.4Z" fill="#12c6ca"/>
<path d="M579.0 71.5L573.8 68.5L573.8 74.5Z" fill="#12c6ca"/>
<path d="M588.4 71.3L583.1 68.3L583.1 74.3Z" fill="#12c6ca"/>
<path d="M601.3 70.6L596.0 67.6L596.0 73.6Z" fill="#12c6ca"/>
<path d="M620.5 69.9L615.2 66.9L615.2 72.9Z" fill="#12c6ca"/>
<path d="M650.9 69.0L645.6 66.0L645.6 72.0Z" fill="#12c6ca"/>
<path d="M715.1 70.4L709.9 67.4L709.9 73.4Z" fill="#12c6ca"/>
<path d="M848.1 70.7L842.9 67.7L842.9 73.7Z" fill="#12c6ca"/>
<path d="M948.2 69.0L943.0 66.0L943.0 72.0Z" fill="#12c6ca"/>
<path d="M532.1 41.1L526.8 38.1L526.8 44.1Z" fill="#12c6ca"/>
<path d="M533.9 45.5L528.6 42.5L528.6 48.5Z" fill="#12c6ca"/>
<path d="M535.0 50.8L529.8 47.8L529.8 53.8Z" fill="#12c6ca"/>
<path d="M536.3 55.8L531.0 52.8L531.0 58.8Z" fill="#12c6ca"/>
<path d="M538.0 59.9L532.8 56.9L532.8 62.9Z" fill="#12c6ca"/>
<path d="M540.5 63.1L535.3 60.1L535.3 66.1Z" fill="#12c6ca"/>
</g>
<rect x="49.3" y="11.6" width="409.5" height="337.6" fill="none" stroke="#000" stroke-width="3.3"/>
<line x1="49.5" y1="349" x2="49.5" y2="355.3" stroke="#000" stroke-width="3"/>
<line x1="90.0" y1="349" x2="90.0" y2="352.3" stroke="#000" stroke-width="3"/>
<line x1="130.5" y1="349" x2="130.5" y2="355.3" stroke="#000" stroke-width="3"/>
<line x1="171.0" y1="349" x2="171.0" y2="352.3" stroke="#000" stroke-width="3"/>
<line x1="211.5" y1="349" x2="211.5" y2="355.3" stroke="#000" stroke-width="3"/>
<line x1="252.0" y1="349" x2="252.0" y2="352.3" stroke="#000" stroke-width="3"/>
<line x1="292.5" y1="349" x2="292.5" y2="355.3" stroke="#000" stroke-width="3"/>
<line x1="333.0" y1="349" x2="333.0" y2="352.3" stroke="#000" stroke-width="3"/>
<line x1="373.5" y1="349" x2="373.5" y2="355.3" stroke="#000" stroke-width="3"/>
<line x1="414.0" y1="349" x2="414.0" y2="352.3" stroke="#000" stroke-width="3"/>
<line x1="454.5" y1="349" x2="454.5" y2="355.3" stroke="#000" stroke-width="3"/>
<rect x="521.3" y="10.8" width="424" height="341" fill="none" stroke="#000" stroke-width="3.5"/>
<line x1="521.3" y1="351" x2="521.3" y2="358.2" stroke="#000" stroke-width="3"/>
<line x1="563.7" y1="351" x2="563.7" y2="354.9" stroke="#000" stroke-width="3"/>
<line x1="606.1" y1="351" x2="606.1" y2="358.2" stroke="#000" stroke-width="3"/>
<line x1="648.5" y1="351" x2="648.5" y2="354.9" stroke="#000" stroke-width="3"/>
<line x1="690.9" y1="351" x2="690.9" y2="358.2" stroke="#000" stroke-width="3"/>
<line x1="733.3" y1="351" x2="733.3" y2="354.9" stroke="#000" stroke-width="3"/>
<line x1="775.7" y1="351" x2="775.7" y2="358.2" stroke="#000" stroke-width="3"/>
<line x1="818.1" y1="351" x2="818.1" y2="354.9" stroke="#000" stroke-width="3"/>
<line x1="860.5" y1="351" x2="860.5" y2="358.2" stroke="#000" stroke-width="3"/>
<line x1="902.9" y1="351" x2="902.9" y2="354.9" stroke="#000" stroke-width="3"/>
<line x1="945.3" y1="351" x2="945.3" y2="358.2" stroke="#000" stroke-width="3"/>
<text x="49.5" y="372.2" text-anchor="middle" style="font-family:&quot;Liberation Sans&quot;,sans-serif;font-weight:bold;font-size:15.8px">0.0</text>
<text x="130.5" y="372.2" text-anchor="middle" style="font-family:&quot;Liberation Sans&quot;,sans-serif;font-weight:bold;font-size:15.8px">0.2</text>
<text x="211.5" y="372.2" text-anchor="middle" style="font-family:&quot;Liberation Sans&quot;,sans-serif;font-weight:bold;font-size:15.8px">0.4</text>
<text x="292.5" y="372.2" text-anchor="middle" style="font-family:&quot;Liberation Sans&quot;,sans-serif;font-weight:bold;font-size:15.8px">0.6</text>
<text x="373.5" y="372.2" text-anchor="middle" style="font-family:&quot;Liberation Sans&quot;,sans-serif;font-weight:bold;font-size:15.8px">0.8</text>
<text x="454.5" y="372.2" text-anchor="middle" style="font-family:&quot;Liberation Sans&quot;,sans-serif;font-weight:bold;font-size:15.8px">1.0</text>
<text x="521.3" y="375.8" text-anchor="middle" style="font-family:&quot;Liberation Sans&quot;,sans-serif;font-weight:bold;font-size:15.8px">0</text>
<text x="606.1" y="375.8" text-anchor="middle" style="font-family:&quot;Liberation Sans&quot;,sans-serif;font-weight:bold;font-size:15.8px">20</text>
<text x="690.9" y="375.8" text-anchor="middle" style="font-family:&quot;Liberation Sans&quot;,sans-serif;font-weight:bold;font-size:15.8px">40</text>
<text x="775.7" y="375.8" text-anchor="middle" style="font-family:&quot;Liberation Sans&quot;,sans-serif;font-weight:bold;font-size:15.8px">60</text>
<text x="860.5" y="375.8" text-anchor="middle" style="font-family:&quot;Liberation Sans&quot;,sans-serif;font-weight:bold;font-size:15.8px">80</text>
<text x="945.3" y="375.8" text-anchor="middle" style="font-family:&quot;Liberation Sans&quot;,sans-serif;font-weight:bold;font-size:15.8px">100</text>
<text x="60.65" y="57.95" style="font-family:&quot;Liberation Serif&quot;,serif;font-weight:bold;font-size:17.0px">CZSM-5</text>
<text x="62.25" y="116.45" style="font-family:&quot;Liberation Serif&quot;,serif;font-weight:bold;font-size:17.0px">HZ5-2.5/40</text>
<text x="62.25" y="164.75" style="font-family:&quot;Liberation Serif&quot;,serif;font-weight:bold;font-size:17.0px">HZ5-2.5/20</text>
<text x="60.55" y="215.10" style="font-family:&quot;Liberation Serif&quot;,serif;font-weight:bold;font-size:17.0px">HZ5-2.5/10</text>
<text x="60.95" y="260.75" style="font-family:&quot;Liberation Serif&quot;,serif;font-weight:bold;font-size:17.0px">HZ5-2.5/5</text>
<text x="59.95" y="297.30" style="font-family:&quot;Liberation Serif&quot;,serif;font-weight:bold;font-size:17.0px">HZ5-2.5/0</text>
<text x="56.25" y="332.80" style="font-family:&quot;Liberation Serif&quot;,serif;font-weight:bold;font-size:17.0px">HZ5-0/0</text>
<text x="822.10" y="63.90" style="font-family:&quot;Liberation Serif&quot;,serif;font-weight:bold;font-size:15.9px">CZSM-5</text>
<text x="827.05" y="106.30" style="font-family:&quot;Liberation Serif&quot;,serif;font-weight:bold;font-size:15.9px">HZ5-2.5/40</text>
<text x="828.35" y="160.25" style="font-family:&quot;Liberation Serif&quot;,serif;font-weight:bold;font-size:15.9px">HZ5-2.5/20</text>
<text x="828.45" y="201.90" style="font-family:&quot;Liberation Serif&quot;,serif;font-weight:bold;font-size:15.9px">HZ5-2.5/10</text>
<text x="827.90" y="249.80" style="font-family:&quot;Liberation Serif&quot;,serif;font-weight:bold;font-size:15.9px">HZ5-2.5/5</text>
<text x="830.30" y="294.30" style="font-family:&quot;Liberation Serif&quot;,serif;font-weight:bold;font-size:15.9px">HZ5-2.5/0</text>
<text x="830.80" y="333.40" style="font-family:&quot;Liberation Serif&quot;,serif;font-weight:bold;font-size:15.9px">HZ5-0/0</text>
<text x="422" y="43" style="font-family:&quot;Liberation Serif&quot;,serif;font-weight:bold;font-size:28px">a</text>
<text x="909.5" y="44" style="font-family:&quot;Liberation Serif&quot;,serif;font-weight:bold;font-size:28px">b</text>
<text x="134.8" y="408.7" style="font-family:&quot;Liberation Serif&quot;,serif;font-weight:bold;font-size:21.9px">Relative pressure</text>
<text x="317" y="408.9" style="font-family:&quot;Liberation Serif&quot;,serif;font-weight:bold;font-size:21.7px">P/P</text>
<text x="349.0" y="418.2" style="font-family:&quot;Liberation Serif&quot;,serif;font-weight:bold;font-size:20.5px">o</text>
<path d="M314.4 386.2 Q303.7 398.5 314.4 410.8" fill="none" stroke="#000" stroke-width="2"/>
<path d="M361 386.2 Q371.7 398.5 361 411" fill="none" stroke="#000" stroke-width="2"/>
<text x="642.6" y="414.2" style="font-family:&quot;Liberation Serif&quot;,serif;font-weight:bold;font-size:22.5px">Pore Dimater (nm)</text>
<text transform="translate(31.1 296.9) rotate(-90)" x="0" y="0" style="font-family:&quot;Liberation Serif&quot;,serif;font-weight:bold;font-size:22.8px">Volume absorbed</text>
<text transform="translate(31.4 109.9) rotate(-90)" x="0" y="0" style="font-family:&quot;Liberation Serif&quot;,serif;font-weight:bold;font-size:22.5px">a.u.</text>
<path d="M12 110.8 Q22.5 121 33.2 110.8" fill="none" stroke="#000" stroke-width="2"/>
<path d="M12 73.5 Q22.5 62.5 33.2 73.5" fill="none" stroke="#000" stroke-width="2"/>
<text transform="translate(506.8 270.2) rotate(-90)" x="0" y="0" style="font-family:&quot;Liberation Serif&quot;,serif;font-weight:bold;font-size:23px">dV/dlog(D)</text>
<text transform="translate(507.0 138.3) rotate(-90)" x="0" y="0" style="font-family:&quot;Liberation Serif&quot;,serif;font-weight:bold;font-size:22px">a.u.</text>
<path d="M488.3 140.3 Q497.7 150.5 507.1 140.3" fill="none" stroke="#000" stroke-width="2"/>
<path d="M488.3 103.3 Q497.7 93.1 507.1 103.3" fill="none" stroke="#000" stroke-width="2"/>
</svg>
</body></html>
